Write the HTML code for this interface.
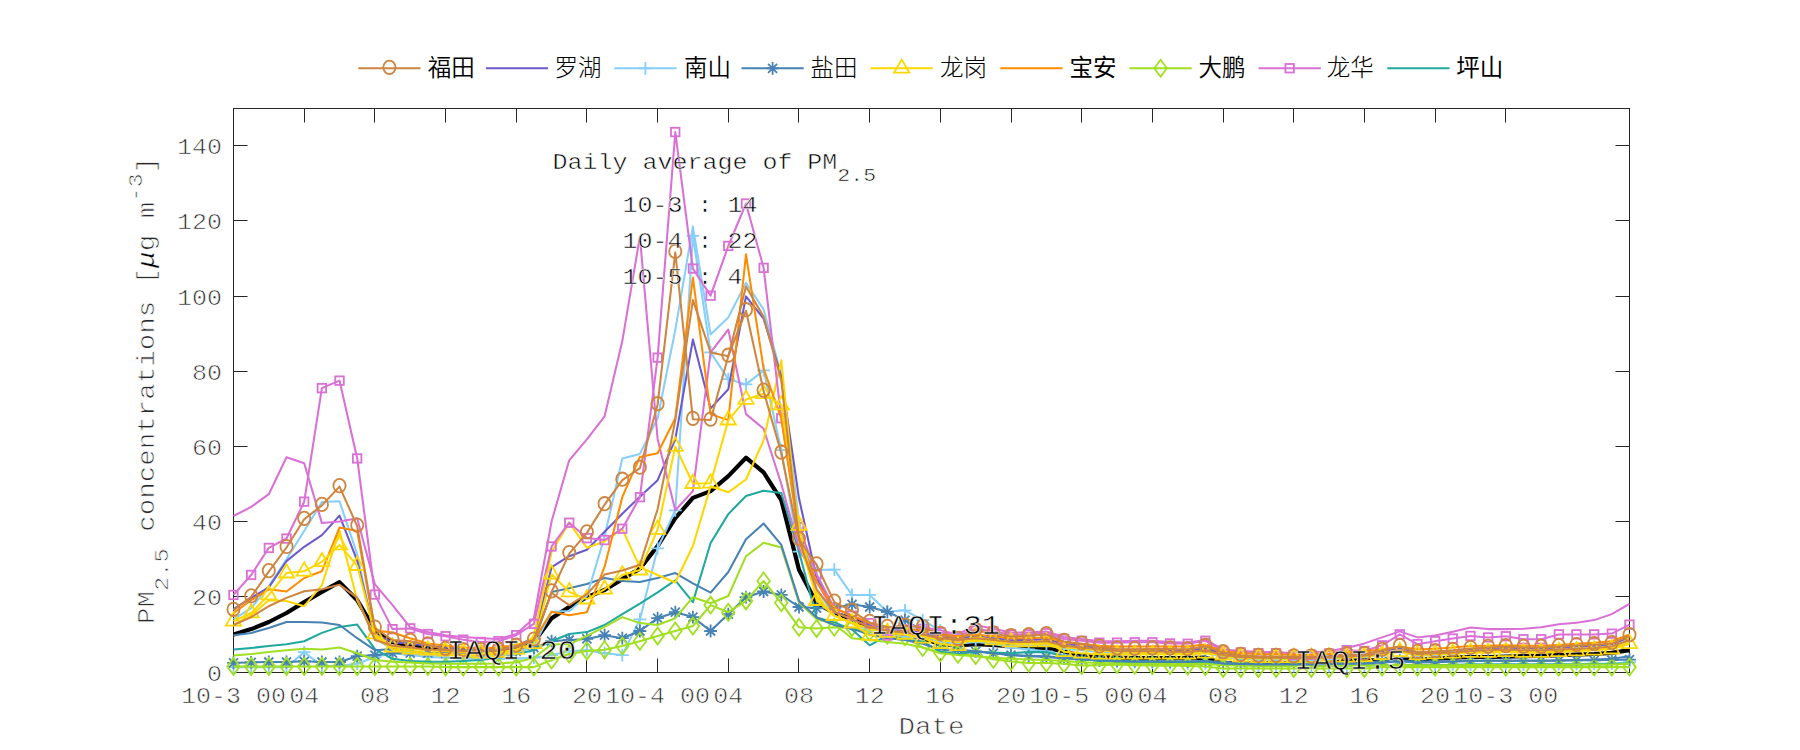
<!DOCTYPE html>
<html lang="zh">
<head>
<meta charset="utf-8">
<title>PM2.5 concentrations</title>
<style>
html,body{margin:0;padding:0;background:#fff;}
body{width:1800px;height:750px;overflow:hidden;}
svg{display:block;}
</style>
</head>
<body>
<svg width="1800" height="750" viewBox="0 0 1800 750">
<rect width="1800" height="750" fill="#fff"/>
<rect x="233.5" y="108.5" width="1396.0" height="564.0" fill="none" stroke="#262626" stroke-width="1"/>
<path d="M233.5 672.5v-14M233.5 108.5v14M304.5 672.5v-14M304.5 108.5v14M374.5 672.5v-14M374.5 108.5v14M445.5 672.5v-14M445.5 108.5v14M516.5 672.5v-14M516.5 108.5v14M586.5 672.5v-14M586.5 108.5v14M657.5 672.5v-14M657.5 108.5v14M728.5 672.5v-14M728.5 108.5v14M798.5 672.5v-14M798.5 108.5v14M869.5 672.5v-14M869.5 108.5v14M940.5 672.5v-14M940.5 108.5v14M1011.5 672.5v-14M1011.5 108.5v14M1081.5 672.5v-14M1081.5 108.5v14M1152.5 672.5v-14M1152.5 108.5v14M1223.5 672.5v-14M1223.5 108.5v14M1293.5 672.5v-14M1293.5 108.5v14M1364.5 672.5v-14M1364.5 108.5v14M1435.5 672.5v-14M1435.5 108.5v14M1505.5 672.5v-14M1505.5 108.5v14M233.5 672.5h14M1629.5 672.5h-14M233.5 596.5h14M1629.5 596.5h-14M233.5 521.5h14M1629.5 521.5h-14M233.5 446.5h14M1629.5 446.5h-14M233.5 371.5h14M1629.5 371.5h-14M233.5 296.5h14M1629.5 296.5h-14M233.5 220.5h14M1629.5 220.5h-14M233.5 145.5h14M1629.5 145.5h-14" stroke="#262626" stroke-width="1" fill="none"/>
<g font-family='"Liberation Mono", "DejaVu Sans Mono", monospace' font-size="25" fill="#2a2a2a" stroke="#fff" stroke-width="0.7" paint-order="fill stroke"><text transform="translate(222.0 680.5) scale(1 0.88)" text-anchor="end" xml:space="preserve">0</text><text transform="translate(222.0 604.5) scale(1 0.88)" text-anchor="end" xml:space="preserve">20</text><text transform="translate(222.0 529.5) scale(1 0.88)" text-anchor="end" xml:space="preserve">40</text><text transform="translate(222.0 454.5) scale(1 0.88)" text-anchor="end" xml:space="preserve">60</text><text transform="translate(222.0 379.5) scale(1 0.88)" text-anchor="end" xml:space="preserve">80</text><text transform="translate(222.0 304.5) scale(1 0.88)" text-anchor="end" xml:space="preserve">100</text><text transform="translate(222.0 228.5) scale(1 0.88)" text-anchor="end" xml:space="preserve">120</text><text transform="translate(222.0 153.5) scale(1 0.88)" text-anchor="end" xml:space="preserve">140</text><text transform="translate(233.5 703.2) scale(1 0.88)" text-anchor="middle" xml:space="preserve">10-3 00</text><text transform="translate(304.2 703.2) scale(1 0.88)" text-anchor="middle" xml:space="preserve">04</text><text transform="translate(374.9 703.2) scale(1 0.88)" text-anchor="middle" xml:space="preserve">08</text><text transform="translate(445.6 703.2) scale(1 0.88)" text-anchor="middle" xml:space="preserve">12</text><text transform="translate(516.2 703.2) scale(1 0.88)" text-anchor="middle" xml:space="preserve">16</text><text transform="translate(586.9 703.2) scale(1 0.88)" text-anchor="middle" xml:space="preserve">20</text><text transform="translate(657.6 703.2) scale(1 0.88)" text-anchor="middle" xml:space="preserve">10-4 00</text><text transform="translate(728.3 703.2) scale(1 0.88)" text-anchor="middle" xml:space="preserve">04</text><text transform="translate(799.0 703.2) scale(1 0.88)" text-anchor="middle" xml:space="preserve">08</text><text transform="translate(869.7 703.2) scale(1 0.88)" text-anchor="middle" xml:space="preserve">12</text><text transform="translate(940.3 703.2) scale(1 0.88)" text-anchor="middle" xml:space="preserve">16</text><text transform="translate(1011.0 703.2) scale(1 0.88)" text-anchor="middle" xml:space="preserve">20</text><text transform="translate(1081.7 703.2) scale(1 0.88)" text-anchor="middle" xml:space="preserve">10-5 00</text><text transform="translate(1152.4 703.2) scale(1 0.88)" text-anchor="middle" xml:space="preserve">04</text><text transform="translate(1223.1 703.2) scale(1 0.88)" text-anchor="middle" xml:space="preserve">08</text><text transform="translate(1293.8 703.2) scale(1 0.88)" text-anchor="middle" xml:space="preserve">12</text><text transform="translate(1364.4 703.2) scale(1 0.88)" text-anchor="middle" xml:space="preserve">16</text><text transform="translate(1435.1 703.2) scale(1 0.88)" text-anchor="middle" xml:space="preserve">20</text><text transform="translate(1505.8 703.2) scale(1 0.88)" text-anchor="middle" xml:space="preserve">10-3 00</text></g>
<polyline points="233.5,634.4 251.2,629.1 268.8,622.0 286.5,613.0 304.2,602.1 321.9,591.9 339.5,582.1 357.2,600.2 374.9,629.9 392.5,641.9 410.2,645.7 427.9,647.6 445.6,648.7 463.2,649.4 480.9,650.2 498.6,650.2 516.2,648.7 533.9,641.9 551.6,618.2 569.2,607.0 586.9,597.2 604.6,590.0 622.3,579.1 639.9,568.6 657.6,546.0 675.3,518.2 692.9,497.9 710.6,491.1 728.3,476.1 746.0,457.7 763.6,472.3 781.3,500.2 799.0,569.7 816.6,603.2 834.3,613.0 852.0,619.0 869.7,627.3 887.3,632.1 905.0,634.4 922.7,638.2 940.3,644.2 958.0,645.3 975.7,644.2 993.3,644.9 1011.0,646.4 1028.7,647.6 1046.4,648.3 1064.0,651.3 1081.7,655.8 1099.4,657.0 1117.0,657.7 1134.7,658.1 1152.4,658.1 1170.1,658.1 1187.7,658.1 1205.4,657.7 1223.1,663.4 1240.7,663.4 1258.4,663.4 1276.1,663.4 1293.8,663.4 1311.4,663.4 1329.1,663.4 1346.8,660.7 1364.4,660.3 1382.1,660.0 1399.8,659.6 1417.4,659.6 1435.1,658.8 1452.8,657.7 1470.5,657.0 1488.1,657.0 1505.8,656.6 1523.5,656.2 1541.1,655.8 1558.8,655.1 1576.5,654.7 1594.2,654.0 1611.8,652.8 1629.5,650.2" fill="none" stroke="#000000" stroke-width="4.20" stroke-linejoin="round"/>
<polyline points="233.5,667.1 251.2,667.1 268.8,667.1 286.5,667.1 304.2,652.1 321.9,666.0 339.5,666.0 357.2,663.7 374.9,657.0 392.5,653.2 410.2,655.1 427.9,657.0 445.6,657.7 463.2,658.5 480.9,658.8 498.6,658.8 516.2,658.5 533.9,657.7 551.6,655.1 569.2,651.3 586.9,650.2 604.6,653.2 622.3,655.1 639.9,619.4 657.6,548.3 675.3,510.3 692.9,235.8 710.6,352.4 728.3,379.1 746.0,384.4 763.6,370.4 781.3,450.2 799.0,551.7 816.6,569.7 834.3,569.7 852.0,594.9 869.7,594.9 887.3,611.8 905.0,610.3 922.7,620.1 940.3,630.6 958.0,638.2 975.7,640.0 993.3,643.8 1011.0,647.6 1028.7,649.4 1046.4,651.3 1064.0,655.1 1081.7,658.8 1099.4,660.7 1117.0,661.5 1134.7,662.2 1152.4,662.6 1170.1,663.0 1187.7,663.4 1205.4,663.0 1223.1,664.5 1240.7,665.2 1258.4,665.6 1276.1,665.6 1293.8,666.0 1311.4,666.0 1329.1,666.0 1346.8,665.6 1364.4,665.6 1382.1,665.2 1399.8,664.5 1417.4,665.2 1435.1,665.2 1452.8,664.9 1470.5,664.5 1488.1,664.5 1505.8,664.1 1523.5,664.5 1541.1,664.5 1558.8,664.1 1576.5,664.1 1594.2,663.7 1611.8,663.4 1629.5,662.2" fill="none" stroke="#87CEFA" stroke-width="2.05" stroke-linejoin="round"/>
<g><path d="M233.5 660.7V673.5M227.1 667.1H239.9" fill="none" stroke="#87CEFA" stroke-width="1.8"/><path d="M251.2 660.7V673.5M244.8 667.1H257.6" fill="none" stroke="#87CEFA" stroke-width="1.8"/><path d="M268.8 660.7V673.5M262.4 667.1H275.2" fill="none" stroke="#87CEFA" stroke-width="1.8"/><path d="M286.5 660.7V673.5M280.1 667.1H292.9" fill="none" stroke="#87CEFA" stroke-width="1.8"/><path d="M304.2 645.7V658.5M297.8 652.1H310.6" fill="none" stroke="#87CEFA" stroke-width="1.8"/><path d="M321.9 659.6V672.4M315.5 666.0H328.3" fill="none" stroke="#87CEFA" stroke-width="1.8"/><path d="M339.5 659.6V672.4M333.1 666.0H345.9" fill="none" stroke="#87CEFA" stroke-width="1.8"/><path d="M357.2 657.3V670.1M350.8 663.7H363.6" fill="none" stroke="#87CEFA" stroke-width="1.8"/><path d="M374.9 650.6V663.4M368.5 657.0H381.3" fill="none" stroke="#87CEFA" stroke-width="1.8"/><path d="M392.5 646.8V659.6M386.1 653.2H398.9" fill="none" stroke="#87CEFA" stroke-width="1.8"/><path d="M410.2 648.7V661.5M403.8 655.1H416.6" fill="none" stroke="#87CEFA" stroke-width="1.8"/><path d="M427.9 650.6V663.4M421.5 657.0H434.3" fill="none" stroke="#87CEFA" stroke-width="1.8"/><path d="M445.6 651.3V664.1M439.2 657.7H452.0" fill="none" stroke="#87CEFA" stroke-width="1.8"/><path d="M463.2 652.1V664.9M456.8 658.5H469.6" fill="none" stroke="#87CEFA" stroke-width="1.8"/><path d="M480.9 652.4V665.2M474.5 658.8H487.3" fill="none" stroke="#87CEFA" stroke-width="1.8"/><path d="M498.6 652.4V665.2M492.2 658.8H505.0" fill="none" stroke="#87CEFA" stroke-width="1.8"/><path d="M516.2 652.1V664.9M509.8 658.5H522.6" fill="none" stroke="#87CEFA" stroke-width="1.8"/><path d="M533.9 651.3V664.1M527.5 657.7H540.3" fill="none" stroke="#87CEFA" stroke-width="1.8"/><path d="M551.6 648.7V661.5M545.2 655.1H558.0" fill="none" stroke="#87CEFA" stroke-width="1.8"/><path d="M569.2 644.9V657.7M562.8 651.3H575.6" fill="none" stroke="#87CEFA" stroke-width="1.8"/><path d="M586.9 643.8V656.6M580.5 650.2H593.3" fill="none" stroke="#87CEFA" stroke-width="1.8"/><path d="M604.6 646.8V659.6M598.2 653.2H611.0" fill="none" stroke="#87CEFA" stroke-width="1.8"/><path d="M622.3 648.7V661.5M615.9 655.1H628.7" fill="none" stroke="#87CEFA" stroke-width="1.8"/><path d="M639.9 613.0V625.8M633.5 619.4H646.3" fill="none" stroke="#87CEFA" stroke-width="1.8"/><path d="M657.6 541.9V554.7M651.2 548.3H664.0" fill="none" stroke="#87CEFA" stroke-width="1.8"/><path d="M675.3 503.9V516.7M668.9 510.3H681.7" fill="none" stroke="#87CEFA" stroke-width="1.8"/><path d="M692.9 229.4V242.2M686.5 235.8H699.3" fill="none" stroke="#87CEFA" stroke-width="1.8"/><path d="M710.6 346.0V358.8M704.2 352.4H717.0" fill="none" stroke="#87CEFA" stroke-width="1.8"/><path d="M728.3 372.7V385.5M721.9 379.1H734.7" fill="none" stroke="#87CEFA" stroke-width="1.8"/><path d="M746.0 378.0V390.8M739.6 384.4H752.4" fill="none" stroke="#87CEFA" stroke-width="1.8"/><path d="M763.6 364.0V376.8M757.2 370.4H770.0" fill="none" stroke="#87CEFA" stroke-width="1.8"/><path d="M781.3 443.8V456.6M774.9 450.2H787.7" fill="none" stroke="#87CEFA" stroke-width="1.8"/><path d="M799.0 545.3V558.1M792.6 551.7H805.4" fill="none" stroke="#87CEFA" stroke-width="1.8"/><path d="M816.6 563.3V576.1M810.2 569.7H823.0" fill="none" stroke="#87CEFA" stroke-width="1.8"/><path d="M834.3 563.3V576.1M827.9 569.7H840.7" fill="none" stroke="#87CEFA" stroke-width="1.8"/><path d="M852.0 588.5V601.3M845.6 594.9H858.4" fill="none" stroke="#87CEFA" stroke-width="1.8"/><path d="M869.7 588.5V601.3M863.3 594.9H876.1" fill="none" stroke="#87CEFA" stroke-width="1.8"/><path d="M887.3 605.4V618.2M880.9 611.8H893.7" fill="none" stroke="#87CEFA" stroke-width="1.8"/><path d="M905.0 603.9V616.7M898.6 610.3H911.4" fill="none" stroke="#87CEFA" stroke-width="1.8"/><path d="M922.7 613.7V626.5M916.3 620.1H929.1" fill="none" stroke="#87CEFA" stroke-width="1.8"/><path d="M940.3 624.2V637.0M933.9 630.6H946.7" fill="none" stroke="#87CEFA" stroke-width="1.8"/><path d="M958.0 631.8V644.6M951.6 638.2H964.4" fill="none" stroke="#87CEFA" stroke-width="1.8"/><path d="M975.7 633.6V646.4M969.3 640.0H982.1" fill="none" stroke="#87CEFA" stroke-width="1.8"/><path d="M993.3 637.4V650.2M986.9 643.8H999.7" fill="none" stroke="#87CEFA" stroke-width="1.8"/><path d="M1011.0 641.2V654.0M1004.6 647.6H1017.4" fill="none" stroke="#87CEFA" stroke-width="1.8"/><path d="M1028.7 643.0V655.8M1022.3 649.4H1035.1" fill="none" stroke="#87CEFA" stroke-width="1.8"/><path d="M1046.4 644.9V657.7M1040.0 651.3H1052.8" fill="none" stroke="#87CEFA" stroke-width="1.8"/><path d="M1064.0 648.7V661.5M1057.6 655.1H1070.4" fill="none" stroke="#87CEFA" stroke-width="1.8"/><path d="M1081.7 652.4V665.2M1075.3 658.8H1088.1" fill="none" stroke="#87CEFA" stroke-width="1.8"/><path d="M1099.4 654.3V667.1M1093.0 660.7H1105.8" fill="none" stroke="#87CEFA" stroke-width="1.8"/><path d="M1117.0 655.1V667.9M1110.6 661.5H1123.4" fill="none" stroke="#87CEFA" stroke-width="1.8"/><path d="M1134.7 655.8V668.6M1128.3 662.2H1141.1" fill="none" stroke="#87CEFA" stroke-width="1.8"/><path d="M1152.4 656.2V669.0M1146.0 662.6H1158.8" fill="none" stroke="#87CEFA" stroke-width="1.8"/><path d="M1170.1 656.6V669.4M1163.7 663.0H1176.5" fill="none" stroke="#87CEFA" stroke-width="1.8"/><path d="M1187.7 657.0V669.8M1181.3 663.4H1194.1" fill="none" stroke="#87CEFA" stroke-width="1.8"/><path d="M1205.4 656.6V669.4M1199.0 663.0H1211.8" fill="none" stroke="#87CEFA" stroke-width="1.8"/><path d="M1223.1 658.1V670.9M1216.7 664.5H1229.5" fill="none" stroke="#87CEFA" stroke-width="1.8"/><path d="M1240.7 658.8V671.6M1234.3 665.2H1247.1" fill="none" stroke="#87CEFA" stroke-width="1.8"/><path d="M1258.4 659.2V672.0M1252.0 665.6H1264.8" fill="none" stroke="#87CEFA" stroke-width="1.8"/><path d="M1276.1 659.2V672.0M1269.7 665.6H1282.5" fill="none" stroke="#87CEFA" stroke-width="1.8"/><path d="M1293.8 659.6V672.4M1287.4 666.0H1300.2" fill="none" stroke="#87CEFA" stroke-width="1.8"/><path d="M1311.4 659.6V672.4M1305.0 666.0H1317.8" fill="none" stroke="#87CEFA" stroke-width="1.8"/><path d="M1329.1 659.6V672.4M1322.7 666.0H1335.5" fill="none" stroke="#87CEFA" stroke-width="1.8"/><path d="M1346.8 659.2V672.0M1340.4 665.6H1353.2" fill="none" stroke="#87CEFA" stroke-width="1.8"/><path d="M1364.4 659.2V672.0M1358.0 665.6H1370.8" fill="none" stroke="#87CEFA" stroke-width="1.8"/><path d="M1382.1 658.8V671.6M1375.7 665.2H1388.5" fill="none" stroke="#87CEFA" stroke-width="1.8"/><path d="M1399.8 658.1V670.9M1393.4 664.5H1406.2" fill="none" stroke="#87CEFA" stroke-width="1.8"/><path d="M1417.4 658.8V671.6M1411.0 665.2H1423.8" fill="none" stroke="#87CEFA" stroke-width="1.8"/><path d="M1435.1 658.8V671.6M1428.7 665.2H1441.5" fill="none" stroke="#87CEFA" stroke-width="1.8"/><path d="M1452.8 658.5V671.3M1446.4 664.9H1459.2" fill="none" stroke="#87CEFA" stroke-width="1.8"/><path d="M1470.5 658.1V670.9M1464.1 664.5H1476.9" fill="none" stroke="#87CEFA" stroke-width="1.8"/><path d="M1488.1 658.1V670.9M1481.7 664.5H1494.5" fill="none" stroke="#87CEFA" stroke-width="1.8"/><path d="M1505.8 657.7V670.5M1499.4 664.1H1512.2" fill="none" stroke="#87CEFA" stroke-width="1.8"/><path d="M1523.5 658.1V670.9M1517.1 664.5H1529.9" fill="none" stroke="#87CEFA" stroke-width="1.8"/><path d="M1541.1 658.1V670.9M1534.7 664.5H1547.5" fill="none" stroke="#87CEFA" stroke-width="1.8"/><path d="M1558.8 657.7V670.5M1552.4 664.1H1565.2" fill="none" stroke="#87CEFA" stroke-width="1.8"/><path d="M1576.5 657.7V670.5M1570.1 664.1H1582.9" fill="none" stroke="#87CEFA" stroke-width="1.8"/><path d="M1594.2 657.3V670.1M1587.8 663.7H1600.6" fill="none" stroke="#87CEFA" stroke-width="1.8"/><path d="M1611.8 657.0V669.8M1605.4 663.4H1618.2" fill="none" stroke="#87CEFA" stroke-width="1.8"/><path d="M1629.5 655.8V668.6M1623.1 662.2H1635.9" fill="none" stroke="#87CEFA" stroke-width="1.8"/></g>
<polyline points="233.5,662.8 251.2,662.4 268.8,662.0 286.5,662.0 304.2,661.3 321.9,662.0 339.5,662.0 357.2,656.2 374.9,655.1 392.5,653.2 410.2,653.2 427.9,653.2 445.6,653.2 463.2,653.2 480.9,653.2 498.6,652.4 516.2,651.3 533.9,647.6 551.6,641.2 569.2,640.0 586.9,638.9 604.6,635.2 622.3,638.2 639.9,631.0 657.6,618.2 675.3,612.2 692.9,617.1 710.6,631.0 728.3,614.1 746.0,597.2 763.6,591.5 781.3,594.9 799.0,607.0 816.6,608.1 834.3,608.1 852.0,604.3 869.7,607.0 887.3,611.8 905.0,620.1 922.7,630.6 940.3,641.9 958.0,649.4 975.7,651.3 993.3,653.2 1011.0,655.1 1028.7,656.2 1046.4,657.0 1064.0,658.5 1081.7,659.6 1099.4,660.3 1117.0,660.7 1134.7,661.1 1152.4,661.1 1170.1,661.5 1187.7,661.5 1205.4,661.1 1223.1,662.2 1240.7,662.6 1258.4,662.6 1276.1,662.6 1293.8,662.6 1311.4,662.6 1329.1,662.2 1346.8,661.8 1364.4,661.8 1382.1,661.5 1399.8,660.7 1417.4,661.5 1435.1,661.5 1452.8,661.1 1470.5,660.7 1488.1,660.7 1505.8,660.7 1523.5,660.7 1541.1,660.7 1558.8,660.7 1576.5,660.3 1594.2,660.3 1611.8,660.0 1629.5,659.6" fill="none" stroke="#4682B4" stroke-width="2.05" stroke-linejoin="round"/>
<g><path d="M233.5 656.4V669.2M227.1 662.8H239.9M229.0 658.3L238.0 667.3M229.0 667.3L238.0 658.3" fill="none" stroke="#4682B4" stroke-width="1.8"/><path d="M251.2 656.0V668.8M244.8 662.4H257.6M246.7 657.9L255.7 666.9M246.7 666.9L255.7 657.9" fill="none" stroke="#4682B4" stroke-width="1.8"/><path d="M268.8 655.6V668.4M262.4 662.0H275.2M264.3 657.5L273.3 666.5M264.3 666.5L273.3 657.5" fill="none" stroke="#4682B4" stroke-width="1.8"/><path d="M286.5 655.6V668.4M280.1 662.0H292.9M282.0 657.5L291.0 666.5M282.0 666.5L291.0 657.5" fill="none" stroke="#4682B4" stroke-width="1.8"/><path d="M304.2 654.9V667.7M297.8 661.3H310.6M299.7 656.8L308.7 665.8M299.7 665.8L308.7 656.8" fill="none" stroke="#4682B4" stroke-width="1.8"/><path d="M321.9 655.6V668.4M315.5 662.0H328.3M317.4 657.5L326.4 666.5M317.4 666.5L326.4 657.5" fill="none" stroke="#4682B4" stroke-width="1.8"/><path d="M339.5 655.6V668.4M333.1 662.0H345.9M335.0 657.5L344.0 666.5M335.0 666.5L344.0 657.5" fill="none" stroke="#4682B4" stroke-width="1.8"/><path d="M357.2 649.8V662.6M350.8 656.2H363.6M352.7 651.7L361.7 660.7M352.7 660.7L361.7 651.7" fill="none" stroke="#4682B4" stroke-width="1.8"/><path d="M374.9 648.7V661.5M368.5 655.1H381.3M370.4 650.6L379.4 659.6M370.4 659.6L379.4 650.6" fill="none" stroke="#4682B4" stroke-width="1.8"/><path d="M392.5 646.8V659.6M386.1 653.2H398.9M388.0 648.7L397.0 657.7M388.0 657.7L397.0 648.7" fill="none" stroke="#4682B4" stroke-width="1.8"/><path d="M410.2 646.8V659.6M403.8 653.2H416.6M405.7 648.7L414.7 657.7M405.7 657.7L414.7 648.7" fill="none" stroke="#4682B4" stroke-width="1.8"/><path d="M427.9 646.8V659.6M421.5 653.2H434.3M423.4 648.7L432.4 657.7M423.4 657.7L432.4 648.7" fill="none" stroke="#4682B4" stroke-width="1.8"/><path d="M445.6 646.8V659.6M439.2 653.2H452.0M441.1 648.7L450.1 657.7M441.1 657.7L450.1 648.7" fill="none" stroke="#4682B4" stroke-width="1.8"/><path d="M463.2 646.8V659.6M456.8 653.2H469.6M458.7 648.7L467.7 657.7M458.7 657.7L467.7 648.7" fill="none" stroke="#4682B4" stroke-width="1.8"/><path d="M480.9 646.8V659.6M474.5 653.2H487.3M476.4 648.7L485.4 657.7M476.4 657.7L485.4 648.7" fill="none" stroke="#4682B4" stroke-width="1.8"/><path d="M498.6 646.0V658.8M492.2 652.4H505.0M494.1 647.9L503.1 656.9M494.1 656.9L503.1 647.9" fill="none" stroke="#4682B4" stroke-width="1.8"/><path d="M516.2 644.9V657.7M509.8 651.3H522.6M511.7 646.8L520.7 655.8M511.7 655.8L520.7 646.8" fill="none" stroke="#4682B4" stroke-width="1.8"/><path d="M533.9 641.2V654.0M527.5 647.6H540.3M529.4 643.1L538.4 652.1M529.4 652.1L538.4 643.1" fill="none" stroke="#4682B4" stroke-width="1.8"/><path d="M551.6 634.8V647.6M545.2 641.2H558.0M547.1 636.7L556.1 645.7M547.1 645.7L556.1 636.7" fill="none" stroke="#4682B4" stroke-width="1.8"/><path d="M569.2 633.6V646.4M562.8 640.0H575.6M564.7 635.5L573.7 644.5M564.7 644.5L573.7 635.5" fill="none" stroke="#4682B4" stroke-width="1.8"/><path d="M586.9 632.5V645.3M580.5 638.9H593.3M582.4 634.4L591.4 643.4M582.4 643.4L591.4 634.4" fill="none" stroke="#4682B4" stroke-width="1.8"/><path d="M604.6 628.8V641.6M598.2 635.2H611.0M600.1 630.7L609.1 639.7M600.1 639.7L609.1 630.7" fill="none" stroke="#4682B4" stroke-width="1.8"/><path d="M622.3 631.8V644.6M615.9 638.2H628.7M617.8 633.7L626.8 642.7M617.8 642.7L626.8 633.7" fill="none" stroke="#4682B4" stroke-width="1.8"/><path d="M639.9 624.6V637.4M633.5 631.0H646.3M635.4 626.5L644.4 635.5M635.4 635.5L644.4 626.5" fill="none" stroke="#4682B4" stroke-width="1.8"/><path d="M657.6 611.8V624.6M651.2 618.2H664.0M653.1 613.7L662.1 622.7M653.1 622.7L662.1 613.7" fill="none" stroke="#4682B4" stroke-width="1.8"/><path d="M675.3 605.8V618.6M668.9 612.2H681.7M670.8 607.7L679.8 616.7M670.8 616.7L679.8 607.7" fill="none" stroke="#4682B4" stroke-width="1.8"/><path d="M692.9 610.7V623.5M686.5 617.1H699.3M688.4 612.6L697.4 621.6M688.4 621.6L697.4 612.6" fill="none" stroke="#4682B4" stroke-width="1.8"/><path d="M710.6 624.6V637.4M704.2 631.0H717.0M706.1 626.5L715.1 635.5M706.1 635.5L715.1 626.5" fill="none" stroke="#4682B4" stroke-width="1.8"/><path d="M728.3 607.7V620.5M721.9 614.1H734.7M723.8 609.6L732.8 618.6M723.8 618.6L732.8 609.6" fill="none" stroke="#4682B4" stroke-width="1.8"/><path d="M746.0 590.8V603.6M739.6 597.2H752.4M741.5 592.7L750.5 601.7M741.5 601.7L750.5 592.7" fill="none" stroke="#4682B4" stroke-width="1.8"/><path d="M763.6 585.1V597.9M757.2 591.5H770.0M759.1 587.0L768.1 596.0M759.1 596.0L768.1 587.0" fill="none" stroke="#4682B4" stroke-width="1.8"/><path d="M781.3 588.5V601.3M774.9 594.9H787.7M776.8 590.4L785.8 599.4M776.8 599.4L785.8 590.4" fill="none" stroke="#4682B4" stroke-width="1.8"/><path d="M799.0 600.6V613.4M792.6 607.0H805.4M794.5 602.5L803.5 611.5M794.5 611.5L803.5 602.5" fill="none" stroke="#4682B4" stroke-width="1.8"/><path d="M816.6 601.7V614.5M810.2 608.1H823.0M812.1 603.6L821.1 612.6M812.1 612.6L821.1 603.6" fill="none" stroke="#4682B4" stroke-width="1.8"/><path d="M834.3 601.7V614.5M827.9 608.1H840.7M829.8 603.6L838.8 612.6M829.8 612.6L838.8 603.6" fill="none" stroke="#4682B4" stroke-width="1.8"/><path d="M852.0 597.9V610.7M845.6 604.3H858.4M847.5 599.8L856.5 608.8M847.5 608.8L856.5 599.8" fill="none" stroke="#4682B4" stroke-width="1.8"/><path d="M869.7 600.6V613.4M863.3 607.0H876.1M865.2 602.5L874.2 611.5M865.2 611.5L874.2 602.5" fill="none" stroke="#4682B4" stroke-width="1.8"/><path d="M887.3 605.4V618.2M880.9 611.8H893.7M882.8 607.3L891.8 616.3M882.8 616.3L891.8 607.3" fill="none" stroke="#4682B4" stroke-width="1.8"/><path d="M905.0 613.7V626.5M898.6 620.1H911.4M900.5 615.6L909.5 624.6M900.5 624.6L909.5 615.6" fill="none" stroke="#4682B4" stroke-width="1.8"/><path d="M922.7 624.2V637.0M916.3 630.6H929.1M918.2 626.1L927.2 635.1M918.2 635.1L927.2 626.1" fill="none" stroke="#4682B4" stroke-width="1.8"/><path d="M940.3 635.5V648.3M933.9 641.9H946.7M935.8 637.4L944.8 646.4M935.8 646.4L944.8 637.4" fill="none" stroke="#4682B4" stroke-width="1.8"/><path d="M958.0 643.0V655.8M951.6 649.4H964.4M953.5 644.9L962.5 653.9M953.5 653.9L962.5 644.9" fill="none" stroke="#4682B4" stroke-width="1.8"/><path d="M975.7 644.9V657.7M969.3 651.3H982.1M971.2 646.8L980.2 655.8M971.2 655.8L980.2 646.8" fill="none" stroke="#4682B4" stroke-width="1.8"/><path d="M993.3 646.8V659.6M986.9 653.2H999.7M988.8 648.7L997.8 657.7M988.8 657.7L997.8 648.7" fill="none" stroke="#4682B4" stroke-width="1.8"/><path d="M1011.0 648.7V661.5M1004.6 655.1H1017.4M1006.5 650.6L1015.5 659.6M1006.5 659.6L1015.5 650.6" fill="none" stroke="#4682B4" stroke-width="1.8"/><path d="M1028.7 649.8V662.6M1022.3 656.2H1035.1M1024.2 651.7L1033.2 660.7M1024.2 660.7L1033.2 651.7" fill="none" stroke="#4682B4" stroke-width="1.8"/><path d="M1046.4 650.6V663.4M1040.0 657.0H1052.8M1041.9 652.5L1050.9 661.5M1041.9 661.5L1050.9 652.5" fill="none" stroke="#4682B4" stroke-width="1.8"/><path d="M1064.0 652.1V664.9M1057.6 658.5H1070.4M1059.5 654.0L1068.5 663.0M1059.5 663.0L1068.5 654.0" fill="none" stroke="#4682B4" stroke-width="1.8"/><path d="M1081.7 653.2V666.0M1075.3 659.6H1088.1M1077.2 655.1L1086.2 664.1M1077.2 664.1L1086.2 655.1" fill="none" stroke="#4682B4" stroke-width="1.8"/><path d="M1099.4 653.9V666.7M1093.0 660.3H1105.8M1094.9 655.8L1103.9 664.8M1094.9 664.8L1103.9 655.8" fill="none" stroke="#4682B4" stroke-width="1.8"/><path d="M1117.0 654.3V667.1M1110.6 660.7H1123.4M1112.5 656.2L1121.5 665.2M1112.5 665.2L1121.5 656.2" fill="none" stroke="#4682B4" stroke-width="1.8"/><path d="M1134.7 654.7V667.5M1128.3 661.1H1141.1M1130.2 656.6L1139.2 665.6M1130.2 665.6L1139.2 656.6" fill="none" stroke="#4682B4" stroke-width="1.8"/><path d="M1152.4 654.7V667.5M1146.0 661.1H1158.8M1147.9 656.6L1156.9 665.6M1147.9 665.6L1156.9 656.6" fill="none" stroke="#4682B4" stroke-width="1.8"/><path d="M1170.1 655.1V667.9M1163.7 661.5H1176.5M1165.6 657.0L1174.6 666.0M1165.6 666.0L1174.6 657.0" fill="none" stroke="#4682B4" stroke-width="1.8"/><path d="M1187.7 655.1V667.9M1181.3 661.5H1194.1M1183.2 657.0L1192.2 666.0M1183.2 666.0L1192.2 657.0" fill="none" stroke="#4682B4" stroke-width="1.8"/><path d="M1205.4 654.7V667.5M1199.0 661.1H1211.8M1200.9 656.6L1209.9 665.6M1200.9 665.6L1209.9 656.6" fill="none" stroke="#4682B4" stroke-width="1.8"/><path d="M1223.1 655.8V668.6M1216.7 662.2H1229.5M1218.6 657.7L1227.6 666.7M1218.6 666.7L1227.6 657.7" fill="none" stroke="#4682B4" stroke-width="1.8"/><path d="M1240.7 656.2V669.0M1234.3 662.6H1247.1M1236.2 658.1L1245.2 667.1M1236.2 667.1L1245.2 658.1" fill="none" stroke="#4682B4" stroke-width="1.8"/><path d="M1258.4 656.2V669.0M1252.0 662.6H1264.8M1253.9 658.1L1262.9 667.1M1253.9 667.1L1262.9 658.1" fill="none" stroke="#4682B4" stroke-width="1.8"/><path d="M1276.1 656.2V669.0M1269.7 662.6H1282.5M1271.6 658.1L1280.6 667.1M1271.6 667.1L1280.6 658.1" fill="none" stroke="#4682B4" stroke-width="1.8"/><path d="M1293.8 656.2V669.0M1287.4 662.6H1300.2M1289.3 658.1L1298.3 667.1M1289.3 667.1L1298.3 658.1" fill="none" stroke="#4682B4" stroke-width="1.8"/><path d="M1311.4 656.2V669.0M1305.0 662.6H1317.8M1306.9 658.1L1315.9 667.1M1306.9 667.1L1315.9 658.1" fill="none" stroke="#4682B4" stroke-width="1.8"/><path d="M1329.1 655.8V668.6M1322.7 662.2H1335.5M1324.6 657.7L1333.6 666.7M1324.6 666.7L1333.6 657.7" fill="none" stroke="#4682B4" stroke-width="1.8"/><path d="M1346.8 655.4V668.2M1340.4 661.8H1353.2M1342.3 657.3L1351.3 666.3M1342.3 666.3L1351.3 657.3" fill="none" stroke="#4682B4" stroke-width="1.8"/><path d="M1364.4 655.4V668.2M1358.0 661.8H1370.8M1359.9 657.3L1368.9 666.3M1359.9 666.3L1368.9 657.3" fill="none" stroke="#4682B4" stroke-width="1.8"/><path d="M1382.1 655.1V667.9M1375.7 661.5H1388.5M1377.6 657.0L1386.6 666.0M1377.6 666.0L1386.6 657.0" fill="none" stroke="#4682B4" stroke-width="1.8"/><path d="M1399.8 654.3V667.1M1393.4 660.7H1406.2M1395.3 656.2L1404.3 665.2M1395.3 665.2L1404.3 656.2" fill="none" stroke="#4682B4" stroke-width="1.8"/><path d="M1417.4 655.1V667.9M1411.0 661.5H1423.8M1412.9 657.0L1421.9 666.0M1412.9 666.0L1421.9 657.0" fill="none" stroke="#4682B4" stroke-width="1.8"/><path d="M1435.1 655.1V667.9M1428.7 661.5H1441.5M1430.6 657.0L1439.6 666.0M1430.6 666.0L1439.6 657.0" fill="none" stroke="#4682B4" stroke-width="1.8"/><path d="M1452.8 654.7V667.5M1446.4 661.1H1459.2M1448.3 656.6L1457.3 665.6M1448.3 665.6L1457.3 656.6" fill="none" stroke="#4682B4" stroke-width="1.8"/><path d="M1470.5 654.3V667.1M1464.1 660.7H1476.9M1466.0 656.2L1475.0 665.2M1466.0 665.2L1475.0 656.2" fill="none" stroke="#4682B4" stroke-width="1.8"/><path d="M1488.1 654.3V667.1M1481.7 660.7H1494.5M1483.6 656.2L1492.6 665.2M1483.6 665.2L1492.6 656.2" fill="none" stroke="#4682B4" stroke-width="1.8"/><path d="M1505.8 654.3V667.1M1499.4 660.7H1512.2M1501.3 656.2L1510.3 665.2M1501.3 665.2L1510.3 656.2" fill="none" stroke="#4682B4" stroke-width="1.8"/><path d="M1523.5 654.3V667.1M1517.1 660.7H1529.9M1519.0 656.2L1528.0 665.2M1519.0 665.2L1528.0 656.2" fill="none" stroke="#4682B4" stroke-width="1.8"/><path d="M1541.1 654.3V667.1M1534.7 660.7H1547.5M1536.6 656.2L1545.6 665.2M1536.6 665.2L1545.6 656.2" fill="none" stroke="#4682B4" stroke-width="1.8"/><path d="M1558.8 654.3V667.1M1552.4 660.7H1565.2M1554.3 656.2L1563.3 665.2M1554.3 665.2L1563.3 656.2" fill="none" stroke="#4682B4" stroke-width="1.8"/><path d="M1576.5 653.9V666.7M1570.1 660.3H1582.9M1572.0 655.8L1581.0 664.8M1572.0 664.8L1581.0 655.8" fill="none" stroke="#4682B4" stroke-width="1.8"/><path d="M1594.2 653.9V666.7M1587.8 660.3H1600.6M1589.7 655.8L1598.7 664.8M1589.7 664.8L1598.7 655.8" fill="none" stroke="#4682B4" stroke-width="1.8"/><path d="M1611.8 653.6V666.4M1605.4 660.0H1618.2M1607.3 655.5L1616.3 664.5M1607.3 664.5L1616.3 655.5" fill="none" stroke="#4682B4" stroke-width="1.8"/><path d="M1629.5 653.2V666.0M1623.1 659.6H1635.9M1625.0 655.1L1634.0 664.1M1625.0 664.1L1634.0 655.1" fill="none" stroke="#4682B4" stroke-width="1.8"/></g>
<polyline points="233.5,666.4 251.2,666.4 268.8,666.4 286.5,666.4 304.2,666.4 321.9,666.4 339.5,666.4 357.2,666.4 374.9,666.4 392.5,666.4 410.2,666.4 427.9,666.4 445.6,667.1 463.2,667.1 480.9,667.1 498.6,667.1 516.2,667.1 533.9,667.1 551.6,660.0 569.2,654.0 586.9,650.9 604.6,649.8 622.3,646.1 639.9,641.2 657.6,635.9 675.3,631.0 692.9,626.1 710.6,605.1 728.3,612.2 746.0,600.9 763.6,581.0 781.3,602.8 799.0,627.3 816.6,628.4 834.3,627.3 852.0,627.6 869.7,632.1 887.3,635.2 905.0,636.7 922.7,647.6 940.3,652.8 958.0,654.3 975.7,655.5 993.3,659.2 1011.0,661.5 1028.7,663.0 1046.4,663.0 1064.0,663.7 1081.7,665.6 1099.4,665.2 1117.0,664.5 1134.7,665.2 1152.4,665.6 1170.1,665.6 1187.7,666.0 1205.4,666.4 1223.1,668.4 1240.7,668.4 1258.4,668.4 1276.1,668.4 1293.8,668.4 1311.4,668.4 1329.1,668.4 1346.8,668.4 1364.4,668.4 1382.1,667.1 1399.8,667.1 1417.4,667.1 1435.1,667.1 1452.8,667.1 1470.5,667.1 1488.1,667.1 1505.8,667.1 1523.5,667.1 1541.1,667.1 1558.8,667.1 1576.5,667.1 1594.2,667.1 1611.8,667.1 1629.5,667.1" fill="none" stroke="#A0E020" stroke-width="2.05" stroke-linejoin="round"/>
<g><polygon points="233.5,657.9 239.8,666.4 233.5,674.9 227.2,666.4" fill="none" stroke="#A0E020" stroke-width="1.8"/><polygon points="251.2,657.9 257.5,666.4 251.2,674.9 244.9,666.4" fill="none" stroke="#A0E020" stroke-width="1.8"/><polygon points="268.8,657.9 275.1,666.4 268.8,674.9 262.5,666.4" fill="none" stroke="#A0E020" stroke-width="1.8"/><polygon points="286.5,657.9 292.8,666.4 286.5,674.9 280.2,666.4" fill="none" stroke="#A0E020" stroke-width="1.8"/><polygon points="304.2,657.9 310.5,666.4 304.2,674.9 297.9,666.4" fill="none" stroke="#A0E020" stroke-width="1.8"/><polygon points="321.9,657.9 328.2,666.4 321.9,674.9 315.6,666.4" fill="none" stroke="#A0E020" stroke-width="1.8"/><polygon points="339.5,657.9 345.8,666.4 339.5,674.9 333.2,666.4" fill="none" stroke="#A0E020" stroke-width="1.8"/><polygon points="357.2,657.9 363.5,666.4 357.2,674.9 350.9,666.4" fill="none" stroke="#A0E020" stroke-width="1.8"/><polygon points="374.9,657.9 381.2,666.4 374.9,674.9 368.6,666.4" fill="none" stroke="#A0E020" stroke-width="1.8"/><polygon points="392.5,657.9 398.8,666.4 392.5,674.9 386.2,666.4" fill="none" stroke="#A0E020" stroke-width="1.8"/><polygon points="410.2,657.9 416.5,666.4 410.2,674.9 403.9,666.4" fill="none" stroke="#A0E020" stroke-width="1.8"/><polygon points="427.9,657.9 434.2,666.4 427.9,674.9 421.6,666.4" fill="none" stroke="#A0E020" stroke-width="1.8"/><polygon points="445.6,658.6 451.9,667.1 445.6,675.6 439.3,667.1" fill="none" stroke="#A0E020" stroke-width="1.8"/><polygon points="463.2,658.6 469.5,667.1 463.2,675.6 456.9,667.1" fill="none" stroke="#A0E020" stroke-width="1.8"/><polygon points="480.9,658.6 487.2,667.1 480.9,675.6 474.6,667.1" fill="none" stroke="#A0E020" stroke-width="1.8"/><polygon points="498.6,658.6 504.9,667.1 498.6,675.6 492.3,667.1" fill="none" stroke="#A0E020" stroke-width="1.8"/><polygon points="516.2,658.6 522.5,667.1 516.2,675.6 509.9,667.1" fill="none" stroke="#A0E020" stroke-width="1.8"/><polygon points="533.9,658.6 540.2,667.1 533.9,675.6 527.6,667.1" fill="none" stroke="#A0E020" stroke-width="1.8"/><polygon points="551.6,651.5 557.9,660.0 551.6,668.5 545.3,660.0" fill="none" stroke="#A0E020" stroke-width="1.8"/><polygon points="569.2,645.5 575.5,654.0 569.2,662.5 562.9,654.0" fill="none" stroke="#A0E020" stroke-width="1.8"/><polygon points="586.9,642.4 593.2,650.9 586.9,659.4 580.6,650.9" fill="none" stroke="#A0E020" stroke-width="1.8"/><polygon points="604.6,641.3 610.9,649.8 604.6,658.3 598.3,649.8" fill="none" stroke="#A0E020" stroke-width="1.8"/><polygon points="622.3,637.6 628.6,646.1 622.3,654.6 616.0,646.1" fill="none" stroke="#A0E020" stroke-width="1.8"/><polygon points="639.9,632.7 646.2,641.2 639.9,649.7 633.6,641.2" fill="none" stroke="#A0E020" stroke-width="1.8"/><polygon points="657.6,627.4 663.9,635.9 657.6,644.4 651.3,635.9" fill="none" stroke="#A0E020" stroke-width="1.8"/><polygon points="675.3,622.5 681.6,631.0 675.3,639.5 669.0,631.0" fill="none" stroke="#A0E020" stroke-width="1.8"/><polygon points="692.9,617.6 699.2,626.1 692.9,634.6 686.6,626.1" fill="none" stroke="#A0E020" stroke-width="1.8"/><polygon points="710.6,596.6 716.9,605.1 710.6,613.6 704.3,605.1" fill="none" stroke="#A0E020" stroke-width="1.8"/><polygon points="728.3,603.7 734.6,612.2 728.3,620.7 722.0,612.2" fill="none" stroke="#A0E020" stroke-width="1.8"/><polygon points="746.0,592.4 752.3,600.9 746.0,609.4 739.7,600.9" fill="none" stroke="#A0E020" stroke-width="1.8"/><polygon points="763.6,572.5 769.9,581.0 763.6,589.5 757.3,581.0" fill="none" stroke="#A0E020" stroke-width="1.8"/><polygon points="781.3,594.3 787.6,602.8 781.3,611.3 775.0,602.8" fill="none" stroke="#A0E020" stroke-width="1.8"/><polygon points="799.0,618.8 805.3,627.3 799.0,635.8 792.7,627.3" fill="none" stroke="#A0E020" stroke-width="1.8"/><polygon points="816.6,619.9 822.9,628.4 816.6,636.9 810.3,628.4" fill="none" stroke="#A0E020" stroke-width="1.8"/><polygon points="834.3,618.8 840.6,627.3 834.3,635.8 828.0,627.3" fill="none" stroke="#A0E020" stroke-width="1.8"/><polygon points="852.0,619.1 858.3,627.6 852.0,636.1 845.7,627.6" fill="none" stroke="#A0E020" stroke-width="1.8"/><polygon points="869.7,623.6 876.0,632.1 869.7,640.6 863.4,632.1" fill="none" stroke="#A0E020" stroke-width="1.8"/><polygon points="887.3,626.7 893.6,635.2 887.3,643.7 881.0,635.2" fill="none" stroke="#A0E020" stroke-width="1.8"/><polygon points="905.0,628.2 911.3,636.7 905.0,645.2 898.7,636.7" fill="none" stroke="#A0E020" stroke-width="1.8"/><polygon points="922.7,639.1 929.0,647.6 922.7,656.1 916.4,647.6" fill="none" stroke="#A0E020" stroke-width="1.8"/><polygon points="940.3,644.3 946.6,652.8 940.3,661.3 934.0,652.8" fill="none" stroke="#A0E020" stroke-width="1.8"/><polygon points="958.0,645.8 964.3,654.3 958.0,662.8 951.7,654.3" fill="none" stroke="#A0E020" stroke-width="1.8"/><polygon points="975.7,647.0 982.0,655.5 975.7,664.0 969.4,655.5" fill="none" stroke="#A0E020" stroke-width="1.8"/><polygon points="993.3,650.7 999.6,659.2 993.3,667.7 987.0,659.2" fill="none" stroke="#A0E020" stroke-width="1.8"/><polygon points="1011.0,653.0 1017.3,661.5 1011.0,670.0 1004.7,661.5" fill="none" stroke="#A0E020" stroke-width="1.8"/><polygon points="1028.7,654.5 1035.0,663.0 1028.7,671.5 1022.4,663.0" fill="none" stroke="#A0E020" stroke-width="1.8"/><polygon points="1046.4,654.5 1052.7,663.0 1046.4,671.5 1040.1,663.0" fill="none" stroke="#A0E020" stroke-width="1.8"/><polygon points="1064.0,655.2 1070.3,663.7 1064.0,672.2 1057.7,663.7" fill="none" stroke="#A0E020" stroke-width="1.8"/><polygon points="1081.7,657.1 1088.0,665.6 1081.7,674.1 1075.4,665.6" fill="none" stroke="#A0E020" stroke-width="1.8"/><polygon points="1099.4,656.7 1105.7,665.2 1099.4,673.7 1093.1,665.2" fill="none" stroke="#A0E020" stroke-width="1.8"/><polygon points="1117.0,656.0 1123.3,664.5 1117.0,673.0 1110.7,664.5" fill="none" stroke="#A0E020" stroke-width="1.8"/><polygon points="1134.7,656.7 1141.0,665.2 1134.7,673.7 1128.4,665.2" fill="none" stroke="#A0E020" stroke-width="1.8"/><polygon points="1152.4,657.1 1158.7,665.6 1152.4,674.1 1146.1,665.6" fill="none" stroke="#A0E020" stroke-width="1.8"/><polygon points="1170.1,657.1 1176.4,665.6 1170.1,674.1 1163.8,665.6" fill="none" stroke="#A0E020" stroke-width="1.8"/><polygon points="1187.7,657.5 1194.0,666.0 1187.7,674.5 1181.4,666.0" fill="none" stroke="#A0E020" stroke-width="1.8"/><polygon points="1205.4,657.9 1211.7,666.4 1205.4,674.9 1199.1,666.4" fill="none" stroke="#A0E020" stroke-width="1.8"/><polygon points="1223.1,659.9 1229.4,668.4 1223.1,676.9 1216.8,668.4" fill="none" stroke="#A0E020" stroke-width="1.8"/><polygon points="1240.7,659.9 1247.0,668.4 1240.7,676.9 1234.4,668.4" fill="none" stroke="#A0E020" stroke-width="1.8"/><polygon points="1258.4,659.9 1264.7,668.4 1258.4,676.9 1252.1,668.4" fill="none" stroke="#A0E020" stroke-width="1.8"/><polygon points="1276.1,659.9 1282.4,668.4 1276.1,676.9 1269.8,668.4" fill="none" stroke="#A0E020" stroke-width="1.8"/><polygon points="1293.8,659.9 1300.1,668.4 1293.8,676.9 1287.5,668.4" fill="none" stroke="#A0E020" stroke-width="1.8"/><polygon points="1311.4,659.9 1317.7,668.4 1311.4,676.9 1305.1,668.4" fill="none" stroke="#A0E020" stroke-width="1.8"/><polygon points="1329.1,659.9 1335.4,668.4 1329.1,676.9 1322.8,668.4" fill="none" stroke="#A0E020" stroke-width="1.8"/><polygon points="1346.8,659.9 1353.1,668.4 1346.8,676.9 1340.5,668.4" fill="none" stroke="#A0E020" stroke-width="1.8"/><polygon points="1364.4,659.9 1370.7,668.4 1364.4,676.9 1358.1,668.4" fill="none" stroke="#A0E020" stroke-width="1.8"/><polygon points="1382.1,658.6 1388.4,667.1 1382.1,675.6 1375.8,667.1" fill="none" stroke="#A0E020" stroke-width="1.8"/><polygon points="1399.8,658.6 1406.1,667.1 1399.8,675.6 1393.5,667.1" fill="none" stroke="#A0E020" stroke-width="1.8"/><polygon points="1417.4,658.6 1423.7,667.1 1417.4,675.6 1411.1,667.1" fill="none" stroke="#A0E020" stroke-width="1.8"/><polygon points="1435.1,658.6 1441.4,667.1 1435.1,675.6 1428.8,667.1" fill="none" stroke="#A0E020" stroke-width="1.8"/><polygon points="1452.8,658.6 1459.1,667.1 1452.8,675.6 1446.5,667.1" fill="none" stroke="#A0E020" stroke-width="1.8"/><polygon points="1470.5,658.6 1476.8,667.1 1470.5,675.6 1464.2,667.1" fill="none" stroke="#A0E020" stroke-width="1.8"/><polygon points="1488.1,658.6 1494.4,667.1 1488.1,675.6 1481.8,667.1" fill="none" stroke="#A0E020" stroke-width="1.8"/><polygon points="1505.8,658.6 1512.1,667.1 1505.8,675.6 1499.5,667.1" fill="none" stroke="#A0E020" stroke-width="1.8"/><polygon points="1523.5,658.6 1529.8,667.1 1523.5,675.6 1517.2,667.1" fill="none" stroke="#A0E020" stroke-width="1.8"/><polygon points="1541.1,658.6 1547.4,667.1 1541.1,675.6 1534.8,667.1" fill="none" stroke="#A0E020" stroke-width="1.8"/><polygon points="1558.8,658.6 1565.1,667.1 1558.8,675.6 1552.5,667.1" fill="none" stroke="#A0E020" stroke-width="1.8"/><polygon points="1576.5,658.6 1582.8,667.1 1576.5,675.6 1570.2,667.1" fill="none" stroke="#A0E020" stroke-width="1.8"/><polygon points="1594.2,658.6 1600.5,667.1 1594.2,675.6 1587.9,667.1" fill="none" stroke="#A0E020" stroke-width="1.8"/><polygon points="1611.8,658.6 1618.1,667.1 1611.8,675.6 1605.5,667.1" fill="none" stroke="#A0E020" stroke-width="1.8"/><polygon points="1629.5,658.6 1635.8,667.1 1629.5,675.6 1623.2,667.1" fill="none" stroke="#A0E020" stroke-width="1.8"/></g>
<polyline points="233.5,649.4 251.2,647.9 268.8,646.1 286.5,644.2 304.2,641.2 321.9,632.9 339.5,626.9 357.2,624.6 374.9,649.1 392.5,658.8 410.2,661.1 427.9,661.8 445.6,661.8 463.2,661.1 480.9,660.0 498.6,657.7 516.2,654.0 533.9,650.2 551.6,641.2 569.2,634.0 586.9,632.1 604.6,625.0 622.3,614.1 639.9,603.6 657.6,592.3 675.3,580.3 692.9,602.1 710.6,543.0 728.3,514.1 746.0,496.0 763.6,490.8 781.3,493.0 799.0,551.7 816.6,617.5 834.3,622.4 852.0,629.5 869.7,645.3 887.3,635.5 905.0,639.3 922.7,641.5 940.3,651.7 958.0,654.0 975.7,651.7 993.3,652.4 1011.0,653.2 1028.7,652.1 1046.4,652.1 1064.0,656.2 1081.7,659.2 1099.4,660.7 1117.0,661.5 1134.7,662.2 1152.4,662.2 1170.1,662.6 1187.7,662.6 1205.4,662.6 1223.1,664.1 1240.7,664.5 1258.4,664.9 1276.1,664.9 1293.8,665.2 1311.4,665.2 1329.1,665.2 1346.8,665.2 1364.4,665.2 1382.1,664.9 1399.8,664.9 1417.4,664.9 1435.1,664.9 1452.8,664.9 1470.5,664.5 1488.1,664.5 1505.8,664.5 1523.5,664.5 1541.1,664.5 1558.8,664.5 1576.5,664.5 1594.2,664.1 1611.8,664.1 1629.5,663.4" fill="none" stroke="#20A8A0" stroke-width="2.05" stroke-linejoin="round"/>
<polyline points="233.5,655.5 251.2,654.0 268.8,652.1 286.5,650.2 304.2,648.7 321.9,649.4 339.5,647.6 357.2,653.2 374.9,660.0 392.5,661.8 410.2,662.6 427.9,663.4 445.6,663.7 463.2,663.7 480.9,663.7 498.6,663.4 516.2,662.2 533.9,658.1 551.6,644.2 569.2,644.2 586.9,635.9 604.6,626.9 622.3,617.1 639.9,623.1 657.6,625.0 675.3,618.2 692.9,597.2 710.6,603.2 728.3,596.0 746.0,556.2 763.6,542.7 781.3,547.5 799.0,602.4 816.6,619.0 834.3,624.2 852.0,638.2 869.7,640.0 887.3,641.9 905.0,643.8 922.7,647.6 940.3,653.2 958.0,655.1 975.7,656.2 993.3,657.7 1011.0,658.8 1028.7,659.6 1046.4,660.0 1064.0,661.1 1081.7,662.2 1099.4,663.0 1117.0,663.4 1134.7,663.7 1152.4,663.7 1170.1,664.1 1187.7,664.1 1205.4,663.7 1223.1,665.2 1240.7,665.6 1258.4,666.0 1276.1,666.0 1293.8,666.0 1311.4,666.0 1329.1,666.0 1346.8,665.6 1364.4,665.6 1382.1,665.2 1399.8,664.9 1417.4,665.2 1435.1,665.2 1452.8,665.2 1470.5,664.9 1488.1,664.9 1505.8,664.9 1523.5,664.9 1541.1,664.9 1558.8,664.9 1576.5,664.5 1594.2,664.5 1611.8,664.5 1629.5,663.7" fill="none" stroke="#A0E020" stroke-width="2.05" stroke-linejoin="round"/>
<polyline points="233.5,635.2 251.2,632.9 268.8,628.0 286.5,622.0 304.2,622.0 321.9,622.4 339.5,625.0 357.2,638.2 374.9,650.2 392.5,649.1 410.2,651.3 427.9,653.2 445.6,654.0 463.2,655.1 480.9,655.1 498.6,654.0 516.2,651.3 533.9,641.9 551.6,591.9 569.2,588.2 586.9,584.0 604.6,578.0 622.3,581.0 639.9,582.1 657.6,578.0 675.3,573.1 692.9,583.3 710.6,592.7 728.3,572.0 746.0,539.3 763.6,523.5 781.3,544.9 799.0,600.9 816.6,617.5 834.3,625.0 852.0,628.8 869.7,634.4 887.3,638.2 905.0,640.0 922.7,643.8 940.3,649.4 958.0,651.3 975.7,651.3 993.3,653.2 1011.0,655.1 1028.7,655.8 1046.4,656.2 1064.0,657.7 1081.7,659.2 1099.4,660.3 1117.0,661.1 1134.7,661.5 1152.4,661.5 1170.1,661.8 1187.7,661.8 1205.4,661.1 1223.1,663.4 1240.7,664.1 1258.4,664.5 1276.1,664.5 1293.8,664.5 1311.4,664.5 1329.1,664.1 1346.8,663.7 1364.4,663.4 1382.1,662.6 1399.8,661.5 1417.4,662.6 1435.1,662.2 1452.8,661.8 1470.5,661.1 1488.1,660.7 1505.8,660.7 1523.5,660.7 1541.1,660.7 1558.8,660.3 1576.5,660.0 1594.2,659.6 1611.8,658.8 1629.5,656.2" fill="none" stroke="#4682B4" stroke-width="2.05" stroke-linejoin="round"/>
<polyline points="233.5,619.4 251.2,608.1 268.8,586.3 286.5,559.2 304.2,531.0 321.9,502.0 339.5,501.3 357.2,554.3 374.9,638.2 392.5,649.4 410.2,653.2 427.9,655.1 445.6,656.2 463.2,657.0 480.9,657.0 498.6,656.2 516.2,653.2 533.9,645.7 551.6,611.8 569.2,611.1 586.9,596.0 604.6,536.6 622.3,458.4 639.9,453.9 657.6,418.2 675.3,329.8 692.9,226.4 710.6,334.4 728.3,317.4 746.0,282.8 763.6,309.5 781.3,375.0 799.0,521.6 816.6,589.3 834.3,615.6 852.0,623.1 869.7,630.6 887.3,634.4 905.0,636.3 922.7,638.2 940.3,641.9 958.0,643.8 975.7,641.9 993.3,643.8 1011.0,645.7 1028.7,645.7 1046.4,644.9 1064.0,648.7 1081.7,650.2 1099.4,652.1 1117.0,653.2 1134.7,653.6 1152.4,653.6 1170.1,654.0 1187.7,654.3 1205.4,652.4 1223.1,657.0 1240.7,658.8 1258.4,659.6 1276.1,659.6 1293.8,660.0 1311.4,660.0 1329.1,659.2 1346.8,657.7 1364.4,657.0 1382.1,654.7 1399.8,652.1 1417.4,655.8 1435.1,655.1 1452.8,654.0 1470.5,652.8 1488.1,652.1 1505.8,651.3 1523.5,652.1 1541.1,652.1 1558.8,651.3 1576.5,650.6 1594.2,649.8 1611.8,648.7 1629.5,642.7" fill="none" stroke="#87CEFA" stroke-width="2.05" stroke-linejoin="round"/>
<polyline points="233.5,609.2 251.2,597.9 268.8,587.4 286.5,561.1 304.2,546.8 321.9,535.1 339.5,515.6 357.2,560.7 374.9,634.4 392.5,641.9 410.2,643.8 427.9,645.7 445.6,647.6 463.2,648.7 480.9,649.4 498.6,648.7 516.2,645.7 533.9,638.2 551.6,567.1 569.2,556.2 586.9,549.8 604.6,531.8 622.3,513.7 639.9,496.8 657.6,480.2 675.3,439.3 692.9,339.6 710.6,408.4 728.3,389.2 746.0,296.4 763.6,318.6 781.3,376.5 799.0,498.3 816.6,578.0 834.3,608.1 852.0,615.6 869.7,625.0 887.3,628.8 905.0,630.6 922.7,632.5 940.3,636.3 958.0,638.2 975.7,636.3 993.3,638.2 1011.0,640.0 1028.7,640.0 1046.4,639.3 1064.0,643.8 1081.7,645.7 1099.4,647.9 1117.0,649.4 1134.7,649.8 1152.4,649.8 1170.1,650.2 1187.7,650.6 1205.4,648.3 1223.1,654.0 1240.7,655.8 1258.4,656.6 1276.1,657.0 1293.8,657.0 1311.4,657.0 1329.1,656.2 1346.8,654.7 1364.4,654.0 1382.1,651.3 1399.8,647.9 1417.4,652.4 1435.1,651.7 1452.8,650.6 1470.5,649.1 1488.1,648.3 1505.8,647.6 1523.5,648.3 1541.1,648.3 1558.8,647.6 1576.5,646.4 1594.2,645.7 1611.8,644.2 1629.5,637.4" fill="none" stroke="#6A5ACD" stroke-width="2.05" stroke-linejoin="round"/>
<polyline points="233.5,516.0 251.2,506.9 268.8,494.2 286.5,457.3 304.2,463.3 321.9,523.1 339.5,521.6 357.2,518.2 374.9,584.4 392.5,605.1 410.2,627.3 427.9,632.1 445.6,635.2 463.2,637.0 480.9,638.2 498.6,638.9 516.2,634.0 533.9,618.2 551.6,521.2 569.2,460.3 586.9,439.3 604.6,416.3 622.3,341.1 639.9,236.6 657.6,438.9 675.3,510.3 692.9,491.1 710.6,352.4 728.3,329.5 746.0,414.1 763.6,428.7 781.3,484.0 799.0,547.9 816.6,581.8 834.3,611.8 852.0,619.4 869.7,626.9 887.3,628.8 905.0,625.0 922.7,626.9 940.3,630.6 958.0,634.4 975.7,625.0 993.3,628.8 1011.0,632.5 1028.7,632.5 1046.4,631.4 1064.0,637.0 1081.7,638.9 1099.4,641.2 1117.0,641.2 1134.7,640.8 1152.4,640.8 1170.1,641.9 1187.7,642.7 1205.4,639.7 1223.1,649.4 1240.7,650.9 1258.4,651.7 1276.1,652.1 1293.8,653.2 1311.4,652.4 1329.1,650.9 1346.8,647.9 1364.4,643.4 1382.1,637.4 1399.8,631.4 1417.4,637.4 1435.1,635.5 1452.8,631.8 1470.5,627.6 1488.1,629.1 1505.8,629.1 1523.5,628.8 1541.1,627.3 1558.8,624.2 1576.5,622.7 1594.2,620.1 1611.8,614.1 1629.5,603.9" fill="none" stroke="#DA70D6" stroke-width="2.05" stroke-linejoin="round"/>
<polyline points="233.5,625.0 251.2,615.2 268.8,600.2 286.5,600.9 304.2,606.2 321.9,585.1 339.5,530.6 357.2,600.2 374.9,635.9 392.5,649.4 410.2,651.3 427.9,653.2 445.6,654.0 463.2,655.1 480.9,655.1 498.6,654.3 516.2,651.3 533.9,636.3 551.6,551.7 569.2,522.7 586.9,547.9 604.6,541.2 622.3,529.1 639.9,567.1 657.6,575.0 675.3,582.5 692.9,546.0 710.6,486.3 728.3,492.3 746.0,479.5 763.6,440.4 781.3,360.3 799.0,540.4 816.6,596.8 834.3,615.6 852.0,623.1 869.7,628.8 887.3,632.5 905.0,634.4 922.7,636.3 940.3,640.0 958.0,641.9 975.7,640.0 993.3,641.9 1011.0,643.8 1028.7,643.8 1046.4,643.4 1064.0,647.2 1081.7,648.7 1099.4,650.6 1117.0,651.7 1134.7,652.1 1152.4,652.1 1170.1,652.4 1187.7,652.8 1205.4,650.9 1223.1,655.8 1240.7,657.7 1258.4,658.5 1276.1,658.5 1293.8,658.8 1311.4,658.8 1329.1,658.1 1346.8,657.0 1364.4,656.2 1382.1,654.0 1399.8,651.3 1417.4,654.7 1435.1,654.0 1452.8,653.2 1470.5,652.1 1488.1,651.3 1505.8,650.6 1523.5,651.3 1541.1,651.3 1558.8,650.6 1576.5,649.8 1594.2,649.1 1611.8,647.9 1629.5,642.7" fill="none" stroke="#FFD700" stroke-width="2.05" stroke-linejoin="round"/>
<polyline points="233.5,594.9 251.2,575.0 268.8,547.9 286.5,538.5 304.2,501.7 321.9,388.1 339.5,380.6 357.2,458.4 374.9,594.5 392.5,629.1 410.2,628.4 427.9,634.0 445.6,636.3 463.2,639.7 480.9,641.9 498.6,641.2 516.2,635.2 533.9,623.9 551.6,546.4 569.2,522.7 586.9,538.1 604.6,540.0 622.3,528.7 639.9,497.2 657.6,357.7 675.3,132.1 692.9,268.6 710.6,295.6 728.3,246.0 746.0,203.5 763.6,267.8 781.3,418.2 799.0,527.2 816.6,574.2 834.3,608.1 852.0,615.6 869.7,623.1 887.3,635.5 905.0,630.6 922.7,628.8 940.3,632.5 958.0,636.3 975.7,628.8 993.3,631.4 1011.0,634.4 1028.7,634.4 1046.4,633.3 1064.0,638.9 1081.7,640.8 1099.4,642.7 1117.0,642.7 1134.7,642.3 1152.4,642.3 1170.1,643.4 1187.7,643.8 1205.4,640.8 1223.1,650.9 1240.7,652.4 1258.4,653.2 1276.1,653.2 1293.8,655.1 1311.4,654.7 1329.1,653.6 1346.8,650.2 1364.4,650.9 1382.1,645.3 1399.8,634.4 1417.4,644.2 1435.1,641.2 1452.8,638.5 1470.5,635.9 1488.1,637.4 1505.8,636.3 1523.5,639.3 1541.1,639.3 1558.8,634.4 1576.5,634.4 1594.2,634.4 1611.8,633.6 1629.5,624.6" fill="none" stroke="#DA70D6" stroke-width="2.05" stroke-linejoin="round"/>
<g><rect x="229.2" y="590.7" width="8.5" height="8.5" fill="none" stroke="#DA70D6" stroke-width="1.8"/><rect x="246.9" y="570.7" width="8.5" height="8.5" fill="none" stroke="#DA70D6" stroke-width="1.8"/><rect x="264.6" y="543.7" width="8.5" height="8.5" fill="none" stroke="#DA70D6" stroke-width="1.8"/><rect x="282.3" y="534.3" width="8.5" height="8.5" fill="none" stroke="#DA70D6" stroke-width="1.8"/><rect x="299.9" y="497.4" width="8.5" height="8.5" fill="none" stroke="#DA70D6" stroke-width="1.8"/><rect x="317.6" y="383.9" width="8.5" height="8.5" fill="none" stroke="#DA70D6" stroke-width="1.8"/><rect x="335.3" y="376.4" width="8.5" height="8.5" fill="none" stroke="#DA70D6" stroke-width="1.8"/><rect x="352.9" y="454.2" width="8.5" height="8.5" fill="none" stroke="#DA70D6" stroke-width="1.8"/><rect x="370.6" y="590.3" width="8.5" height="8.5" fill="none" stroke="#DA70D6" stroke-width="1.8"/><rect x="388.3" y="624.9" width="8.5" height="8.5" fill="none" stroke="#DA70D6" stroke-width="1.8"/><rect x="406.0" y="624.1" width="8.5" height="8.5" fill="none" stroke="#DA70D6" stroke-width="1.8"/><rect x="423.6" y="629.8" width="8.5" height="8.5" fill="none" stroke="#DA70D6" stroke-width="1.8"/><rect x="441.3" y="632.0" width="8.5" height="8.5" fill="none" stroke="#DA70D6" stroke-width="1.8"/><rect x="459.0" y="635.4" width="8.5" height="8.5" fill="none" stroke="#DA70D6" stroke-width="1.8"/><rect x="476.6" y="637.7" width="8.5" height="8.5" fill="none" stroke="#DA70D6" stroke-width="1.8"/><rect x="494.3" y="636.9" width="8.5" height="8.5" fill="none" stroke="#DA70D6" stroke-width="1.8"/><rect x="512.0" y="630.9" width="8.5" height="8.5" fill="none" stroke="#DA70D6" stroke-width="1.8"/><rect x="529.7" y="619.6" width="8.5" height="8.5" fill="none" stroke="#DA70D6" stroke-width="1.8"/><rect x="547.3" y="542.2" width="8.5" height="8.5" fill="none" stroke="#DA70D6" stroke-width="1.8"/><rect x="565.0" y="518.5" width="8.5" height="8.5" fill="none" stroke="#DA70D6" stroke-width="1.8"/><rect x="582.7" y="533.9" width="8.5" height="8.5" fill="none" stroke="#DA70D6" stroke-width="1.8"/><rect x="600.3" y="535.8" width="8.5" height="8.5" fill="none" stroke="#DA70D6" stroke-width="1.8"/><rect x="618.0" y="524.5" width="8.5" height="8.5" fill="none" stroke="#DA70D6" stroke-width="1.8"/><rect x="635.7" y="492.9" width="8.5" height="8.5" fill="none" stroke="#DA70D6" stroke-width="1.8"/><rect x="653.4" y="353.4" width="8.5" height="8.5" fill="none" stroke="#DA70D6" stroke-width="1.8"/><rect x="671.0" y="127.8" width="8.5" height="8.5" fill="none" stroke="#DA70D6" stroke-width="1.8"/><rect x="688.7" y="264.3" width="8.5" height="8.5" fill="none" stroke="#DA70D6" stroke-width="1.8"/><rect x="706.4" y="291.4" width="8.5" height="8.5" fill="none" stroke="#DA70D6" stroke-width="1.8"/><rect x="724.0" y="241.7" width="8.5" height="8.5" fill="none" stroke="#DA70D6" stroke-width="1.8"/><rect x="741.7" y="199.3" width="8.5" height="8.5" fill="none" stroke="#DA70D6" stroke-width="1.8"/><rect x="759.4" y="263.6" width="8.5" height="8.5" fill="none" stroke="#DA70D6" stroke-width="1.8"/><rect x="777.0" y="414.0" width="8.5" height="8.5" fill="none" stroke="#DA70D6" stroke-width="1.8"/><rect x="794.7" y="523.0" width="8.5" height="8.5" fill="none" stroke="#DA70D6" stroke-width="1.8"/><rect x="812.4" y="570.0" width="8.5" height="8.5" fill="none" stroke="#DA70D6" stroke-width="1.8"/><rect x="830.1" y="603.8" width="8.5" height="8.5" fill="none" stroke="#DA70D6" stroke-width="1.8"/><rect x="847.7" y="611.4" width="8.5" height="8.5" fill="none" stroke="#DA70D6" stroke-width="1.8"/><rect x="865.4" y="618.9" width="8.5" height="8.5" fill="none" stroke="#DA70D6" stroke-width="1.8"/><rect x="883.1" y="631.3" width="8.5" height="8.5" fill="none" stroke="#DA70D6" stroke-width="1.8"/><rect x="900.7" y="626.4" width="8.5" height="8.5" fill="none" stroke="#DA70D6" stroke-width="1.8"/><rect x="918.4" y="624.5" width="8.5" height="8.5" fill="none" stroke="#DA70D6" stroke-width="1.8"/><rect x="936.1" y="628.3" width="8.5" height="8.5" fill="none" stroke="#DA70D6" stroke-width="1.8"/><rect x="953.8" y="632.0" width="8.5" height="8.5" fill="none" stroke="#DA70D6" stroke-width="1.8"/><rect x="971.4" y="624.5" width="8.5" height="8.5" fill="none" stroke="#DA70D6" stroke-width="1.8"/><rect x="989.1" y="627.1" width="8.5" height="8.5" fill="none" stroke="#DA70D6" stroke-width="1.8"/><rect x="1006.8" y="630.1" width="8.5" height="8.5" fill="none" stroke="#DA70D6" stroke-width="1.8"/><rect x="1024.4" y="630.1" width="8.5" height="8.5" fill="none" stroke="#DA70D6" stroke-width="1.8"/><rect x="1042.1" y="629.0" width="8.5" height="8.5" fill="none" stroke="#DA70D6" stroke-width="1.8"/><rect x="1059.8" y="634.7" width="8.5" height="8.5" fill="none" stroke="#DA70D6" stroke-width="1.8"/><rect x="1077.5" y="636.5" width="8.5" height="8.5" fill="none" stroke="#DA70D6" stroke-width="1.8"/><rect x="1095.1" y="638.4" width="8.5" height="8.5" fill="none" stroke="#DA70D6" stroke-width="1.8"/><rect x="1112.8" y="638.4" width="8.5" height="8.5" fill="none" stroke="#DA70D6" stroke-width="1.8"/><rect x="1130.5" y="638.0" width="8.5" height="8.5" fill="none" stroke="#DA70D6" stroke-width="1.8"/><rect x="1148.1" y="638.0" width="8.5" height="8.5" fill="none" stroke="#DA70D6" stroke-width="1.8"/><rect x="1165.8" y="639.2" width="8.5" height="8.5" fill="none" stroke="#DA70D6" stroke-width="1.8"/><rect x="1183.5" y="639.5" width="8.5" height="8.5" fill="none" stroke="#DA70D6" stroke-width="1.8"/><rect x="1201.1" y="636.5" width="8.5" height="8.5" fill="none" stroke="#DA70D6" stroke-width="1.8"/><rect x="1218.8" y="646.7" width="8.5" height="8.5" fill="none" stroke="#DA70D6" stroke-width="1.8"/><rect x="1236.5" y="648.2" width="8.5" height="8.5" fill="none" stroke="#DA70D6" stroke-width="1.8"/><rect x="1254.2" y="649.0" width="8.5" height="8.5" fill="none" stroke="#DA70D6" stroke-width="1.8"/><rect x="1271.8" y="649.0" width="8.5" height="8.5" fill="none" stroke="#DA70D6" stroke-width="1.8"/><rect x="1289.5" y="650.8" width="8.5" height="8.5" fill="none" stroke="#DA70D6" stroke-width="1.8"/><rect x="1307.2" y="650.5" width="8.5" height="8.5" fill="none" stroke="#DA70D6" stroke-width="1.8"/><rect x="1324.8" y="649.3" width="8.5" height="8.5" fill="none" stroke="#DA70D6" stroke-width="1.8"/><rect x="1342.5" y="645.9" width="8.5" height="8.5" fill="none" stroke="#DA70D6" stroke-width="1.8"/><rect x="1360.2" y="646.7" width="8.5" height="8.5" fill="none" stroke="#DA70D6" stroke-width="1.8"/><rect x="1377.9" y="641.1" width="8.5" height="8.5" fill="none" stroke="#DA70D6" stroke-width="1.8"/><rect x="1395.5" y="630.1" width="8.5" height="8.5" fill="none" stroke="#DA70D6" stroke-width="1.8"/><rect x="1413.2" y="639.9" width="8.5" height="8.5" fill="none" stroke="#DA70D6" stroke-width="1.8"/><rect x="1430.9" y="636.9" width="8.5" height="8.5" fill="none" stroke="#DA70D6" stroke-width="1.8"/><rect x="1448.5" y="634.3" width="8.5" height="8.5" fill="none" stroke="#DA70D6" stroke-width="1.8"/><rect x="1466.2" y="631.7" width="8.5" height="8.5" fill="none" stroke="#DA70D6" stroke-width="1.8"/><rect x="1483.9" y="633.2" width="8.5" height="8.5" fill="none" stroke="#DA70D6" stroke-width="1.8"/><rect x="1501.6" y="632.0" width="8.5" height="8.5" fill="none" stroke="#DA70D6" stroke-width="1.8"/><rect x="1519.2" y="635.0" width="8.5" height="8.5" fill="none" stroke="#DA70D6" stroke-width="1.8"/><rect x="1536.9" y="635.0" width="8.5" height="8.5" fill="none" stroke="#DA70D6" stroke-width="1.8"/><rect x="1554.6" y="630.1" width="8.5" height="8.5" fill="none" stroke="#DA70D6" stroke-width="1.8"/><rect x="1572.2" y="630.1" width="8.5" height="8.5" fill="none" stroke="#DA70D6" stroke-width="1.8"/><rect x="1589.9" y="630.1" width="8.5" height="8.5" fill="none" stroke="#DA70D6" stroke-width="1.8"/><rect x="1607.6" y="629.4" width="8.5" height="8.5" fill="none" stroke="#DA70D6" stroke-width="1.8"/><rect x="1625.2" y="620.4" width="8.5" height="8.5" fill="none" stroke="#DA70D6" stroke-width="1.8"/></g>
<polyline points="233.5,613.0 251.2,600.2 268.8,589.3 286.5,591.5 304.2,578.0 321.9,571.2 339.5,527.6 357.2,531.0 374.9,630.6 392.5,632.5 410.2,638.2 427.9,643.4 445.6,645.7 463.2,647.6 480.9,648.3 498.6,647.6 516.2,644.9 533.9,640.0 551.6,611.8 569.2,615.2 586.9,612.2 604.6,566.7 622.3,497.2 639.9,456.9 657.6,453.2 675.3,418.2 692.9,277.6 710.6,414.1 728.3,420.1 746.0,254.3 763.6,368.6 781.3,418.2 799.0,536.6 816.6,581.8 834.3,608.1 852.0,615.6 869.7,623.1 887.3,626.9 905.0,628.8 922.7,630.6 940.3,634.4 958.0,636.3 975.7,634.4 993.3,636.3 1011.0,638.2 1028.7,638.2 1046.4,637.4 1064.0,641.9 1081.7,643.8 1099.4,645.7 1117.0,646.4 1134.7,646.4 1152.4,646.4 1170.1,646.4 1187.7,646.4 1205.4,644.6 1223.1,651.3 1240.7,653.2 1258.4,654.0 1276.1,654.3 1293.8,654.7 1311.4,654.7 1329.1,654.0 1346.8,652.4 1364.4,651.3 1382.1,649.4 1399.8,646.4 1417.4,649.4 1435.1,648.7 1452.8,647.6 1470.5,646.1 1488.1,645.7 1505.8,645.3 1523.5,645.7 1541.1,645.7 1558.8,644.9 1576.5,643.8 1594.2,642.7 1611.8,641.2 1629.5,634.4" fill="none" stroke="#FF8C00" stroke-width="2.05" stroke-linejoin="round"/>
<polyline points="233.5,621.2 251.2,613.0 268.8,594.9 286.5,573.1 304.2,571.2 321.9,561.8 339.5,544.9 357.2,565.6 374.9,634.0 392.5,647.2 410.2,649.1 427.9,650.2 445.6,651.3 463.2,652.4 480.9,653.2 498.6,652.4 516.2,649.4 533.9,643.8 551.6,574.2 569.2,591.9 586.9,599.1 604.6,589.3 622.3,575.0 639.9,570.1 657.6,529.5 675.3,446.4 692.9,483.6 710.6,483.2 728.3,420.1 746.0,399.4 763.6,393.8 781.3,405.0 799.0,525.4 816.6,600.6 834.3,615.6 852.0,623.1 869.7,635.5 887.3,632.5 905.0,634.4 922.7,638.2 940.3,643.8 958.0,645.7 975.7,637.0 993.3,640.0 1011.0,641.9 1028.7,641.9 1046.4,641.9 1064.0,651.7 1081.7,653.2 1099.4,654.3 1117.0,654.3 1134.7,654.3 1152.4,654.3 1170.1,654.3 1187.7,654.3 1205.4,653.2 1223.1,655.1 1240.7,657.0 1258.4,657.7 1276.1,657.7 1293.8,657.7 1311.4,657.7 1329.1,657.0 1346.8,657.3 1364.4,656.6 1382.1,654.7 1399.8,651.7 1417.4,654.7 1435.1,654.0 1452.8,653.2 1470.5,652.4 1488.1,652.4 1505.8,651.7 1523.5,652.4 1541.1,652.4 1558.8,651.7 1576.5,650.9 1594.2,650.2 1611.8,649.1 1629.5,643.8" fill="none" stroke="#FFD700" stroke-width="2.05" stroke-linejoin="round"/>
<g><polygon points="233.5,612.4 225.9,625.6 241.1,625.6" fill="none" stroke="#FFD700" stroke-width="1.8"/><polygon points="251.2,604.2 243.6,617.4 258.8,617.4" fill="none" stroke="#FFD700" stroke-width="1.8"/><polygon points="268.8,586.1 261.2,599.3 276.4,599.3" fill="none" stroke="#FFD700" stroke-width="1.8"/><polygon points="286.5,564.3 278.9,577.5 294.1,577.5" fill="none" stroke="#FFD700" stroke-width="1.8"/><polygon points="304.2,562.4 296.6,575.6 311.8,575.6" fill="none" stroke="#FFD700" stroke-width="1.8"/><polygon points="321.9,553.0 314.3,566.2 329.5,566.2" fill="none" stroke="#FFD700" stroke-width="1.8"/><polygon points="339.5,536.1 331.9,549.3 347.1,549.3" fill="none" stroke="#FFD700" stroke-width="1.8"/><polygon points="357.2,556.8 349.6,570.0 364.8,570.0" fill="none" stroke="#FFD700" stroke-width="1.8"/><polygon points="374.9,625.2 367.3,638.4 382.5,638.4" fill="none" stroke="#FFD700" stroke-width="1.8"/><polygon points="392.5,638.4 384.9,651.6 400.1,651.6" fill="none" stroke="#FFD700" stroke-width="1.8"/><polygon points="410.2,640.3 402.6,653.5 417.8,653.5" fill="none" stroke="#FFD700" stroke-width="1.8"/><polygon points="427.9,641.4 420.3,654.6 435.5,654.6" fill="none" stroke="#FFD700" stroke-width="1.8"/><polygon points="445.6,642.5 438.0,655.7 453.2,655.7" fill="none" stroke="#FFD700" stroke-width="1.8"/><polygon points="463.2,643.6 455.6,656.8 470.8,656.8" fill="none" stroke="#FFD700" stroke-width="1.8"/><polygon points="480.9,644.4 473.3,657.6 488.5,657.6" fill="none" stroke="#FFD700" stroke-width="1.8"/><polygon points="498.6,643.6 491.0,656.8 506.2,656.8" fill="none" stroke="#FFD700" stroke-width="1.8"/><polygon points="516.2,640.6 508.6,653.8 523.8,653.8" fill="none" stroke="#FFD700" stroke-width="1.8"/><polygon points="533.9,635.0 526.3,648.2 541.5,648.2" fill="none" stroke="#FFD700" stroke-width="1.8"/><polygon points="551.6,565.4 544.0,578.6 559.2,578.6" fill="none" stroke="#FFD700" stroke-width="1.8"/><polygon points="569.2,583.1 561.6,596.3 576.8,596.3" fill="none" stroke="#FFD700" stroke-width="1.8"/><polygon points="586.9,590.3 579.3,603.5 594.5,603.5" fill="none" stroke="#FFD700" stroke-width="1.8"/><polygon points="604.6,580.5 597.0,593.7 612.2,593.7" fill="none" stroke="#FFD700" stroke-width="1.8"/><polygon points="622.3,566.2 614.7,579.4 629.9,579.4" fill="none" stroke="#FFD700" stroke-width="1.8"/><polygon points="639.9,561.3 632.3,574.5 647.5,574.5" fill="none" stroke="#FFD700" stroke-width="1.8"/><polygon points="657.6,520.7 650.0,533.9 665.2,533.9" fill="none" stroke="#FFD700" stroke-width="1.8"/><polygon points="675.3,437.6 667.7,450.8 682.9,450.8" fill="none" stroke="#FFD700" stroke-width="1.8"/><polygon points="692.9,474.8 685.3,488.0 700.5,488.0" fill="none" stroke="#FFD700" stroke-width="1.8"/><polygon points="710.6,474.4 703.0,487.6 718.2,487.6" fill="none" stroke="#FFD700" stroke-width="1.8"/><polygon points="728.3,411.3 720.7,424.5 735.9,424.5" fill="none" stroke="#FFD700" stroke-width="1.8"/><polygon points="746.0,390.6 738.4,403.8 753.6,403.8" fill="none" stroke="#FFD700" stroke-width="1.8"/><polygon points="763.6,385.0 756.0,398.2 771.2,398.2" fill="none" stroke="#FFD700" stroke-width="1.8"/><polygon points="781.3,396.2 773.7,409.4 788.9,409.4" fill="none" stroke="#FFD700" stroke-width="1.8"/><polygon points="799.0,516.6 791.4,529.8 806.6,529.8" fill="none" stroke="#FFD700" stroke-width="1.8"/><polygon points="816.6,591.8 809.0,605.0 824.2,605.0" fill="none" stroke="#FFD700" stroke-width="1.8"/><polygon points="834.3,606.8 826.7,620.0 841.9,620.0" fill="none" stroke="#FFD700" stroke-width="1.8"/><polygon points="852.0,614.3 844.4,627.5 859.6,627.5" fill="none" stroke="#FFD700" stroke-width="1.8"/><polygon points="869.7,626.7 862.1,639.9 877.3,639.9" fill="none" stroke="#FFD700" stroke-width="1.8"/><polygon points="887.3,623.7 879.7,636.9 894.9,636.9" fill="none" stroke="#FFD700" stroke-width="1.8"/><polygon points="905.0,625.6 897.4,638.8 912.6,638.8" fill="none" stroke="#FFD700" stroke-width="1.8"/><polygon points="922.7,629.4 915.1,642.6 930.3,642.6" fill="none" stroke="#FFD700" stroke-width="1.8"/><polygon points="940.3,635.0 932.7,648.2 947.9,648.2" fill="none" stroke="#FFD700" stroke-width="1.8"/><polygon points="958.0,636.9 950.4,650.1 965.6,650.1" fill="none" stroke="#FFD700" stroke-width="1.8"/><polygon points="975.7,628.2 968.1,641.4 983.3,641.4" fill="none" stroke="#FFD700" stroke-width="1.8"/><polygon points="993.3,631.2 985.7,644.4 1000.9,644.4" fill="none" stroke="#FFD700" stroke-width="1.8"/><polygon points="1011.0,633.1 1003.4,646.3 1018.6,646.3" fill="none" stroke="#FFD700" stroke-width="1.8"/><polygon points="1028.7,633.1 1021.1,646.3 1036.3,646.3" fill="none" stroke="#FFD700" stroke-width="1.8"/><polygon points="1046.4,633.1 1038.8,646.3 1054.0,646.3" fill="none" stroke="#FFD700" stroke-width="1.8"/><polygon points="1064.0,642.9 1056.4,656.1 1071.6,656.1" fill="none" stroke="#FFD700" stroke-width="1.8"/><polygon points="1081.7,644.4 1074.1,657.6 1089.3,657.6" fill="none" stroke="#FFD700" stroke-width="1.8"/><polygon points="1099.4,645.5 1091.8,658.7 1107.0,658.7" fill="none" stroke="#FFD700" stroke-width="1.8"/><polygon points="1117.0,645.5 1109.4,658.7 1124.6,658.7" fill="none" stroke="#FFD700" stroke-width="1.8"/><polygon points="1134.7,645.5 1127.1,658.7 1142.3,658.7" fill="none" stroke="#FFD700" stroke-width="1.8"/><polygon points="1152.4,645.5 1144.8,658.7 1160.0,658.7" fill="none" stroke="#FFD700" stroke-width="1.8"/><polygon points="1170.1,645.5 1162.5,658.7 1177.7,658.7" fill="none" stroke="#FFD700" stroke-width="1.8"/><polygon points="1187.7,645.5 1180.1,658.7 1195.3,658.7" fill="none" stroke="#FFD700" stroke-width="1.8"/><polygon points="1205.4,644.4 1197.8,657.6 1213.0,657.6" fill="none" stroke="#FFD700" stroke-width="1.8"/><polygon points="1223.1,646.3 1215.5,659.5 1230.7,659.5" fill="none" stroke="#FFD700" stroke-width="1.8"/><polygon points="1240.7,648.2 1233.1,661.4 1248.3,661.4" fill="none" stroke="#FFD700" stroke-width="1.8"/><polygon points="1258.4,648.9 1250.8,662.1 1266.0,662.1" fill="none" stroke="#FFD700" stroke-width="1.8"/><polygon points="1276.1,648.9 1268.5,662.1 1283.7,662.1" fill="none" stroke="#FFD700" stroke-width="1.8"/><polygon points="1293.8,648.9 1286.2,662.1 1301.4,662.1" fill="none" stroke="#FFD700" stroke-width="1.8"/><polygon points="1311.4,648.9 1303.8,662.1 1319.0,662.1" fill="none" stroke="#FFD700" stroke-width="1.8"/><polygon points="1329.1,648.2 1321.5,661.4 1336.7,661.4" fill="none" stroke="#FFD700" stroke-width="1.8"/><polygon points="1346.8,648.5 1339.2,661.7 1354.4,661.7" fill="none" stroke="#FFD700" stroke-width="1.8"/><polygon points="1364.4,647.8 1356.8,661.0 1372.0,661.0" fill="none" stroke="#FFD700" stroke-width="1.8"/><polygon points="1382.1,645.9 1374.5,659.1 1389.7,659.1" fill="none" stroke="#FFD700" stroke-width="1.8"/><polygon points="1399.8,642.9 1392.2,656.1 1407.4,656.1" fill="none" stroke="#FFD700" stroke-width="1.8"/><polygon points="1417.4,645.9 1409.8,659.1 1425.0,659.1" fill="none" stroke="#FFD700" stroke-width="1.8"/><polygon points="1435.1,645.2 1427.5,658.4 1442.7,658.4" fill="none" stroke="#FFD700" stroke-width="1.8"/><polygon points="1452.8,644.4 1445.2,657.6 1460.4,657.6" fill="none" stroke="#FFD700" stroke-width="1.8"/><polygon points="1470.5,643.6 1462.9,656.8 1478.1,656.8" fill="none" stroke="#FFD700" stroke-width="1.8"/><polygon points="1488.1,643.6 1480.5,656.8 1495.7,656.8" fill="none" stroke="#FFD700" stroke-width="1.8"/><polygon points="1505.8,642.9 1498.2,656.1 1513.4,656.1" fill="none" stroke="#FFD700" stroke-width="1.8"/><polygon points="1523.5,643.6 1515.9,656.8 1531.1,656.8" fill="none" stroke="#FFD700" stroke-width="1.8"/><polygon points="1541.1,643.6 1533.5,656.8 1548.7,656.8" fill="none" stroke="#FFD700" stroke-width="1.8"/><polygon points="1558.8,642.9 1551.2,656.1 1566.4,656.1" fill="none" stroke="#FFD700" stroke-width="1.8"/><polygon points="1576.5,642.1 1568.9,655.3 1584.1,655.3" fill="none" stroke="#FFD700" stroke-width="1.8"/><polygon points="1594.2,641.4 1586.6,654.6 1601.8,654.6" fill="none" stroke="#FFD700" stroke-width="1.8"/><polygon points="1611.8,640.3 1604.2,653.5 1619.4,653.5" fill="none" stroke="#FFD700" stroke-width="1.8"/><polygon points="1629.5,635.0 1621.9,648.2 1637.1,648.2" fill="none" stroke="#FFD700" stroke-width="1.8"/></g>
<polyline points="233.5,625.0 251.2,617.1 268.8,606.2 286.5,597.9 304.2,591.2 321.9,589.3 339.5,584.8 357.2,597.6 374.9,640.0 392.5,645.7 410.2,647.6 427.9,649.4 445.6,650.2 463.2,651.3 480.9,651.3 498.6,650.2 516.2,647.6 533.9,640.0 551.6,593.0 569.2,605.1 586.9,594.2 604.6,574.6 622.3,570.5 639.9,564.8 657.6,509.2 675.3,420.1 692.9,300.1 710.6,352.4 728.3,356.2 746.0,286.6 763.6,316.7 781.3,380.6 799.0,540.4 816.6,589.3 834.3,611.8 852.0,619.4 869.7,626.9 887.3,630.6 905.0,632.5 922.7,634.4 940.3,638.2 958.0,640.0 975.7,638.2 993.3,640.0 1011.0,641.9 1028.7,641.9 1046.4,641.2 1064.0,645.7 1081.7,647.6 1099.4,649.4 1117.0,650.9 1134.7,651.3 1152.4,651.3 1170.1,651.7 1187.7,652.1 1205.4,650.2 1223.1,655.1 1240.7,657.0 1258.4,657.7 1276.1,657.7 1293.8,658.1 1311.4,658.1 1329.1,657.3 1346.8,656.2 1364.4,655.8 1382.1,653.2 1399.8,650.2 1417.4,654.0 1435.1,653.2 1452.8,652.4 1470.5,650.9 1488.1,650.2 1505.8,649.4 1523.5,650.2 1541.1,650.2 1558.8,649.4 1576.5,648.7 1594.2,647.9 1611.8,646.4 1629.5,640.0" fill="none" stroke="#CD853F" stroke-width="2.05" stroke-linejoin="round"/>
<polyline points="233.5,610.3 251.2,596.8 268.8,571.6 286.5,547.5 304.2,519.3 321.9,505.4 339.5,486.6 357.2,526.1 374.9,628.0 392.5,640.0 410.2,641.2 427.9,644.9 445.6,649.4 463.2,650.6 480.9,650.6 498.6,650.2 516.2,646.1 533.9,640.0 551.6,591.9 569.2,553.6 586.9,532.9 604.6,504.7 622.3,480.2 639.9,468.2 657.6,404.7 675.3,252.4 692.9,419.3 710.6,420.1 728.3,356.2 746.0,310.7 763.6,391.1 781.3,453.2 799.0,539.6 816.6,564.8 834.3,602.1 852.0,611.1 869.7,622.4 887.3,627.3 905.0,626.1 922.7,627.3 940.3,634.4 958.0,639.3 975.7,630.5 993.3,633.8 1011.0,636.5 1028.7,635.7 1046.4,634.6 1064.0,641.4 1081.7,644.0 1099.4,647.0 1117.0,648.9 1134.7,649.3 1152.4,648.9 1170.1,648.9 1187.7,649.6 1205.4,646.2 1223.1,652.6 1240.7,655.3 1258.4,656.4 1276.1,656.4 1293.8,656.8 1311.4,657.1 1329.1,656.4 1346.8,654.5 1364.4,654.5 1382.1,650.4 1399.8,646.6 1417.4,652.3 1435.1,651.5 1452.8,650.4 1470.5,648.5 1488.1,647.4 1505.8,646.6 1523.5,647.4 1541.1,647.4 1558.8,646.6 1576.5,645.5 1594.2,644.7 1611.8,643.6 1629.5,635.7" fill="none" stroke="#CD853F" stroke-width="2.05" stroke-linejoin="round"/>
<g><ellipse cx="233.5" cy="609.3" rx="6.1" ry="6.7" fill="none" stroke="#CD853F" stroke-width="1.8"/><ellipse cx="251.2" cy="595.8" rx="6.1" ry="6.7" fill="none" stroke="#CD853F" stroke-width="1.8"/><ellipse cx="268.8" cy="570.6" rx="6.1" ry="6.7" fill="none" stroke="#CD853F" stroke-width="1.8"/><ellipse cx="286.5" cy="546.5" rx="6.1" ry="6.7" fill="none" stroke="#CD853F" stroke-width="1.8"/><ellipse cx="304.2" cy="518.3" rx="6.1" ry="6.7" fill="none" stroke="#CD853F" stroke-width="1.8"/><ellipse cx="321.9" cy="504.4" rx="6.1" ry="6.7" fill="none" stroke="#CD853F" stroke-width="1.8"/><ellipse cx="339.5" cy="485.6" rx="6.1" ry="6.7" fill="none" stroke="#CD853F" stroke-width="1.8"/><ellipse cx="357.2" cy="525.1" rx="6.1" ry="6.7" fill="none" stroke="#CD853F" stroke-width="1.8"/><ellipse cx="374.9" cy="627.0" rx="6.1" ry="6.7" fill="none" stroke="#CD853F" stroke-width="1.8"/><ellipse cx="392.5" cy="639.0" rx="6.1" ry="6.7" fill="none" stroke="#CD853F" stroke-width="1.8"/><ellipse cx="410.2" cy="640.2" rx="6.1" ry="6.7" fill="none" stroke="#CD853F" stroke-width="1.8"/><ellipse cx="427.9" cy="643.9" rx="6.1" ry="6.7" fill="none" stroke="#CD853F" stroke-width="1.8"/><ellipse cx="445.6" cy="648.4" rx="6.1" ry="6.7" fill="none" stroke="#CD853F" stroke-width="1.8"/><ellipse cx="463.2" cy="649.6" rx="6.1" ry="6.7" fill="none" stroke="#CD853F" stroke-width="1.8"/><ellipse cx="480.9" cy="649.6" rx="6.1" ry="6.7" fill="none" stroke="#CD853F" stroke-width="1.8"/><ellipse cx="498.6" cy="649.2" rx="6.1" ry="6.7" fill="none" stroke="#CD853F" stroke-width="1.8"/><ellipse cx="516.2" cy="645.1" rx="6.1" ry="6.7" fill="none" stroke="#CD853F" stroke-width="1.8"/><ellipse cx="533.9" cy="639.0" rx="6.1" ry="6.7" fill="none" stroke="#CD853F" stroke-width="1.8"/><ellipse cx="551.6" cy="590.9" rx="6.1" ry="6.7" fill="none" stroke="#CD853F" stroke-width="1.8"/><ellipse cx="569.2" cy="552.6" rx="6.1" ry="6.7" fill="none" stroke="#CD853F" stroke-width="1.8"/><ellipse cx="586.9" cy="531.9" rx="6.1" ry="6.7" fill="none" stroke="#CD853F" stroke-width="1.8"/><ellipse cx="604.6" cy="503.7" rx="6.1" ry="6.7" fill="none" stroke="#CD853F" stroke-width="1.8"/><ellipse cx="622.3" cy="479.2" rx="6.1" ry="6.7" fill="none" stroke="#CD853F" stroke-width="1.8"/><ellipse cx="639.9" cy="467.2" rx="6.1" ry="6.7" fill="none" stroke="#CD853F" stroke-width="1.8"/><ellipse cx="657.6" cy="403.7" rx="6.1" ry="6.7" fill="none" stroke="#CD853F" stroke-width="1.8"/><ellipse cx="675.3" cy="251.4" rx="6.1" ry="6.7" fill="none" stroke="#CD853F" stroke-width="1.8"/><ellipse cx="692.9" cy="418.3" rx="6.1" ry="6.7" fill="none" stroke="#CD853F" stroke-width="1.8"/><ellipse cx="710.6" cy="419.1" rx="6.1" ry="6.7" fill="none" stroke="#CD853F" stroke-width="1.8"/><ellipse cx="728.3" cy="355.2" rx="6.1" ry="6.7" fill="none" stroke="#CD853F" stroke-width="1.8"/><ellipse cx="746.0" cy="309.7" rx="6.1" ry="6.7" fill="none" stroke="#CD853F" stroke-width="1.8"/><ellipse cx="763.6" cy="390.1" rx="6.1" ry="6.7" fill="none" stroke="#CD853F" stroke-width="1.8"/><ellipse cx="781.3" cy="452.2" rx="6.1" ry="6.7" fill="none" stroke="#CD853F" stroke-width="1.8"/><ellipse cx="799.0" cy="538.6" rx="6.1" ry="6.7" fill="none" stroke="#CD853F" stroke-width="1.8"/><ellipse cx="816.6" cy="563.8" rx="6.1" ry="6.7" fill="none" stroke="#CD853F" stroke-width="1.8"/><ellipse cx="834.3" cy="601.1" rx="6.1" ry="6.7" fill="none" stroke="#CD853F" stroke-width="1.8"/><ellipse cx="852.0" cy="610.1" rx="6.1" ry="6.7" fill="none" stroke="#CD853F" stroke-width="1.8"/><ellipse cx="869.7" cy="621.4" rx="6.1" ry="6.7" fill="none" stroke="#CD853F" stroke-width="1.8"/><ellipse cx="887.3" cy="626.3" rx="6.1" ry="6.7" fill="none" stroke="#CD853F" stroke-width="1.8"/><ellipse cx="905.0" cy="625.1" rx="6.1" ry="6.7" fill="none" stroke="#CD853F" stroke-width="1.8"/><ellipse cx="922.7" cy="626.3" rx="6.1" ry="6.7" fill="none" stroke="#CD853F" stroke-width="1.8"/><ellipse cx="940.3" cy="633.4" rx="6.1" ry="6.7" fill="none" stroke="#CD853F" stroke-width="1.8"/><ellipse cx="958.0" cy="638.3" rx="6.1" ry="6.7" fill="none" stroke="#CD853F" stroke-width="1.8"/><ellipse cx="975.7" cy="629.5" rx="6.1" ry="6.7" fill="none" stroke="#CD853F" stroke-width="1.8"/><ellipse cx="993.3" cy="632.8" rx="6.1" ry="6.7" fill="none" stroke="#CD853F" stroke-width="1.8"/><ellipse cx="1011.0" cy="635.5" rx="6.1" ry="6.7" fill="none" stroke="#CD853F" stroke-width="1.8"/><ellipse cx="1028.7" cy="634.7" rx="6.1" ry="6.7" fill="none" stroke="#CD853F" stroke-width="1.8"/><ellipse cx="1046.4" cy="633.6" rx="6.1" ry="6.7" fill="none" stroke="#CD853F" stroke-width="1.8"/><ellipse cx="1064.0" cy="640.4" rx="6.1" ry="6.7" fill="none" stroke="#CD853F" stroke-width="1.8"/><ellipse cx="1081.7" cy="643.0" rx="6.1" ry="6.7" fill="none" stroke="#CD853F" stroke-width="1.8"/><ellipse cx="1099.4" cy="646.0" rx="6.1" ry="6.7" fill="none" stroke="#CD853F" stroke-width="1.8"/><ellipse cx="1117.0" cy="647.9" rx="6.1" ry="6.7" fill="none" stroke="#CD853F" stroke-width="1.8"/><ellipse cx="1134.7" cy="648.3" rx="6.1" ry="6.7" fill="none" stroke="#CD853F" stroke-width="1.8"/><ellipse cx="1152.4" cy="647.9" rx="6.1" ry="6.7" fill="none" stroke="#CD853F" stroke-width="1.8"/><ellipse cx="1170.1" cy="647.9" rx="6.1" ry="6.7" fill="none" stroke="#CD853F" stroke-width="1.8"/><ellipse cx="1187.7" cy="648.6" rx="6.1" ry="6.7" fill="none" stroke="#CD853F" stroke-width="1.8"/><ellipse cx="1205.4" cy="645.2" rx="6.1" ry="6.7" fill="none" stroke="#CD853F" stroke-width="1.8"/><ellipse cx="1223.1" cy="651.6" rx="6.1" ry="6.7" fill="none" stroke="#CD853F" stroke-width="1.8"/><ellipse cx="1240.7" cy="654.3" rx="6.1" ry="6.7" fill="none" stroke="#CD853F" stroke-width="1.8"/><ellipse cx="1258.4" cy="655.4" rx="6.1" ry="6.7" fill="none" stroke="#CD853F" stroke-width="1.8"/><ellipse cx="1276.1" cy="655.4" rx="6.1" ry="6.7" fill="none" stroke="#CD853F" stroke-width="1.8"/><ellipse cx="1293.8" cy="655.8" rx="6.1" ry="6.7" fill="none" stroke="#CD853F" stroke-width="1.8"/><ellipse cx="1311.4" cy="656.1" rx="6.1" ry="6.7" fill="none" stroke="#CD853F" stroke-width="1.8"/><ellipse cx="1329.1" cy="655.4" rx="6.1" ry="6.7" fill="none" stroke="#CD853F" stroke-width="1.8"/><ellipse cx="1346.8" cy="653.5" rx="6.1" ry="6.7" fill="none" stroke="#CD853F" stroke-width="1.8"/><ellipse cx="1364.4" cy="653.5" rx="6.1" ry="6.7" fill="none" stroke="#CD853F" stroke-width="1.8"/><ellipse cx="1382.1" cy="649.4" rx="6.1" ry="6.7" fill="none" stroke="#CD853F" stroke-width="1.8"/><ellipse cx="1399.8" cy="645.6" rx="6.1" ry="6.7" fill="none" stroke="#CD853F" stroke-width="1.8"/><ellipse cx="1417.4" cy="651.3" rx="6.1" ry="6.7" fill="none" stroke="#CD853F" stroke-width="1.8"/><ellipse cx="1435.1" cy="650.5" rx="6.1" ry="6.7" fill="none" stroke="#CD853F" stroke-width="1.8"/><ellipse cx="1452.8" cy="649.4" rx="6.1" ry="6.7" fill="none" stroke="#CD853F" stroke-width="1.8"/><ellipse cx="1470.5" cy="647.5" rx="6.1" ry="6.7" fill="none" stroke="#CD853F" stroke-width="1.8"/><ellipse cx="1488.1" cy="646.4" rx="6.1" ry="6.7" fill="none" stroke="#CD853F" stroke-width="1.8"/><ellipse cx="1505.8" cy="645.6" rx="6.1" ry="6.7" fill="none" stroke="#CD853F" stroke-width="1.8"/><ellipse cx="1523.5" cy="646.4" rx="6.1" ry="6.7" fill="none" stroke="#CD853F" stroke-width="1.8"/><ellipse cx="1541.1" cy="646.4" rx="6.1" ry="6.7" fill="none" stroke="#CD853F" stroke-width="1.8"/><ellipse cx="1558.8" cy="645.6" rx="6.1" ry="6.7" fill="none" stroke="#CD853F" stroke-width="1.8"/><ellipse cx="1576.5" cy="644.5" rx="6.1" ry="6.7" fill="none" stroke="#CD853F" stroke-width="1.8"/><ellipse cx="1594.2" cy="643.7" rx="6.1" ry="6.7" fill="none" stroke="#CD853F" stroke-width="1.8"/><ellipse cx="1611.8" cy="642.6" rx="6.1" ry="6.7" fill="none" stroke="#CD853F" stroke-width="1.8"/><ellipse cx="1629.5" cy="634.7" rx="6.1" ry="6.7" fill="none" stroke="#CD853F" stroke-width="1.8"/></g>
<g font-family='"Liberation Mono", "DejaVu Sans Mono", monospace' font-size="27.5" fill="#2a2a2a" stroke="#fff" stroke-width="0.8" paint-order="fill stroke">
<text transform="translate(931.6 734.0) scale(1 0.88)" text-anchor="middle" xml:space="preserve">Date</text>
<text transform="translate(154.4,390.4) rotate(-90) scale(1 0.88)" text-anchor="middle" xml:space="preserve">PM<tspan font-size="23.7" dy="15">2.5</tspan><tspan dy="-15"> concentrations [</tspan><tspan font-style="italic" fill="#000" stroke-width="0.4">μ</tspan>g m<tspan font-size="23.7" dy="-14">-3</tspan><tspan dy="14">]</tspan></text>
</g>
<g font-family='"Liberation Mono", "DejaVu Sans Mono", monospace' fill="#000" stroke="#fff" stroke-width="0.6" paint-order="fill stroke"><text transform="translate(552.5 169.2) scale(1 0.88)" font-size="25" xml:space="preserve">Daily average of PM<tspan font-size="21.5" dy="13.6">2.5</tspan></text><text transform="translate(622.5 211.5) scale(1 0.88)" font-size="25" xml:space="preserve">10-3 : 14</text><text transform="translate(622.5 247.5) scale(1 0.88)" font-size="25" xml:space="preserve">10-4 : 22</text><text transform="translate(622.5 283.5) scale(1 0.88)" font-size="25" xml:space="preserve">10-5 : 4</text><text transform="translate(446.5 659.0) scale(1 0.88)" font-size="30.9" xml:space="preserve">IAQI:20</text><text transform="translate(870.6 634.0) scale(1 0.88)" font-size="30.9" xml:space="preserve">IAQI:31</text><text transform="translate(1294.2 668.6) scale(1 0.88)" font-size="30.9" xml:space="preserve">IAQI:5</text></g>
<g font-family='"Liberation Sans", "Noto Sans CJK SC", sans-serif' font-size="23.5" fill="#000"><line x1="358.3" y1="68.3" x2="420.5" y2="68.3" stroke="#CD853F" stroke-width="2.05"/><ellipse cx="389.4" cy="67.3" rx="6.1" ry="6.7" fill="none" stroke="#CD853F" stroke-width="1.8"/><text x="427.8" y="75.9" font-weight="350">福田</text><line x1="485.9" y1="68.3" x2="548.1" y2="68.3" stroke="#6A5ACD" stroke-width="2.05"/><text x="554.5" y="75.9" font-weight="300">罗湖</text><line x1="614.3" y1="68.3" x2="676.5" y2="68.3" stroke="#87CEFA" stroke-width="2.05"/><path d="M645.4 61.9V74.7M639.0 68.3H651.8" fill="none" stroke="#87CEFA" stroke-width="1.8"/><text x="684.0" y="75.9" font-weight="350">南山</text><line x1="741.5" y1="68.3" x2="803.7" y2="68.3" stroke="#4682B4" stroke-width="2.05"/><path d="M772.6 61.9V74.7M766.2 68.3H779.0M768.1 63.8L777.1 72.8M768.1 72.8L777.1 63.8" fill="none" stroke="#4682B4" stroke-width="1.8"/><text x="810.5" y="75.9" font-weight="300">盐田</text><line x1="870.6" y1="68.3" x2="932.8" y2="68.3" stroke="#FFD700" stroke-width="2.05"/><polygon points="901.7,59.5 894.1,72.7 909.3,72.7" fill="none" stroke="#FFD700" stroke-width="1.8"/><text x="940.0" y="75.9" font-weight="300">龙岗</text><line x1="1000.3" y1="68.3" x2="1062.5" y2="68.3" stroke="#FF8C00" stroke-width="2.05"/><text x="1069.4" y="75.9" font-weight="400">宝安</text><line x1="1129.5" y1="68.3" x2="1191.7" y2="68.3" stroke="#A0E020" stroke-width="2.05"/><polygon points="1160.6,59.8 1166.9,68.3 1160.6,76.8 1154.3,68.3" fill="none" stroke="#A0E020" stroke-width="1.8"/><text x="1198.5" y="75.9" font-weight="350">大鹏</text><line x1="1258.6" y1="68.3" x2="1320.8" y2="68.3" stroke="#DA70D6" stroke-width="2.05"/><rect x="1285.4" y="64.0" width="8.5" height="8.5" fill="none" stroke="#DA70D6" stroke-width="1.8"/><text x="1326.8" y="75.9" font-weight="300">龙华</text><line x1="1387.3" y1="68.3" x2="1449.5" y2="68.3" stroke="#20A8A0" stroke-width="2.05"/><text x="1456.3" y="75.9" font-weight="400">坪山</text></g>
</svg>
</body>
</html>
